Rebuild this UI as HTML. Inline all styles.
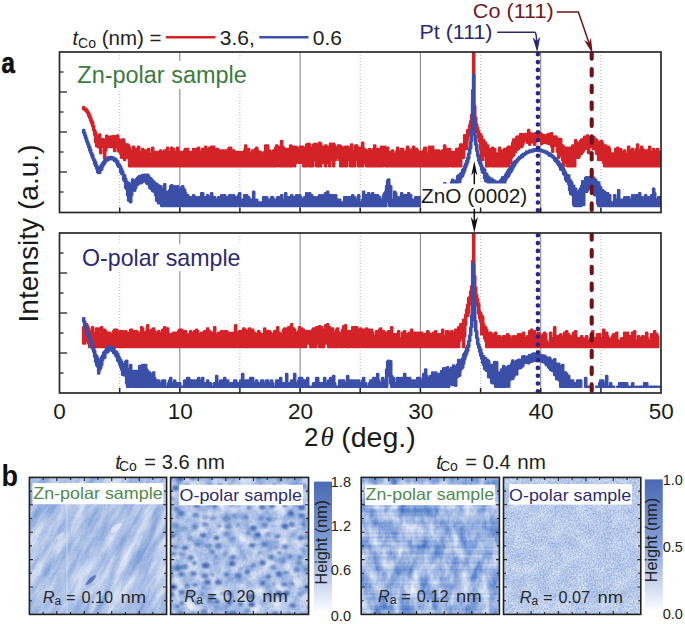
<!DOCTYPE html>
<html><head><meta charset="utf-8"><style>
html,body{margin:0;padding:0;background:#fff;width:685px;height:624px;overflow:hidden}
svg{display:block}
text{font-family:"Liberation Sans",sans-serif}
text.serif{font-family:"Liberation Serif",serif}
</style></head><body>
<svg width="685" height="624" viewBox="0 0 685 624">
<defs>
<clipPath id="cu"><rect x="59.5" y="52" width="601.5" height="160.5"/></clipPath>
<clipPath id="cl"><rect x="59.5" y="233" width="601.5" height="160"/></clipPath>
</defs>
<rect width="685" height="624" fill="#fff"/>
<!-- upper plot -->
<line x1="119.7" y1="52" x2="119.7" y2="212.5" stroke="#b4b4b4" stroke-width="1" stroke-dasharray="1 2"/>
<line x1="239.9" y1="52" x2="239.9" y2="212.5" stroke="#b4b4b4" stroke-width="1" stroke-dasharray="1 2"/>
<line x1="360.2" y1="52" x2="360.2" y2="212.5" stroke="#b4b4b4" stroke-width="1" stroke-dasharray="1 2"/>
<line x1="480.6" y1="52" x2="480.6" y2="212.5" stroke="#b4b4b4" stroke-width="1" stroke-dasharray="1 2"/>
<line x1="600.9" y1="52" x2="600.9" y2="212.5" stroke="#b4b4b4" stroke-width="1" stroke-dasharray="1 2"/>
<line x1="179.8" y1="52" x2="179.8" y2="212.5" stroke="#8a8a8a" stroke-width="1.1"/>
<line x1="300.1" y1="52" x2="300.1" y2="212.5" stroke="#8a8a8a" stroke-width="1.1"/>
<line x1="420.4" y1="52" x2="420.4" y2="212.5" stroke="#8a8a8a" stroke-width="1.1"/>
<line x1="540.7" y1="52" x2="540.7" y2="212.5" stroke="#8a8a8a" stroke-width="1.1"/>
<rect x="77" y="61" width="171" height="28" fill="#fff"/>
<g clip-path="url(#cu)" stroke-width="2.6" stroke-linejoin="round">
<path d="M83.2 107.4h1V108.3h1V108.9h1V109.6h1V111.3h1V113.0h1V114.8h1V117.5h1V120.3h1V122.2h1V126.1h1V130.4h1V132.2h1V137.4h1V136.2h1V135.8h1V134.6h1V138.9h1V142.5h1V139.3h1V139.7h1V141.4h1V139.5h1V135.7h1V138.0h1V137.0h1V137.6h1V136.8h1V136.5h1V136.7h1V136.4h1V136.3h1V139.9h1V138.1h1V135.6h1V139.4h1V140.4h1V141.9h1V140.4h1V139.6h1h1V143.7h1V146.7h1V145.6h1V144.6h1V145.6h1V147.9h1V150.5h1V153.6h1V150.5h1V146.7h1V155.5h1V150.5h1V149.1h1V155.5h1V146.7h1V153.6h1V152.0h1V153.6h1V149.1h1V155.5h1V150.5h1h1V152.0h1V150.5h1V149.1h1V153.6h1V155.5h1V157.6h1V147.9h1V155.5h1V152.0h1V155.5h1V152.0h1V157.6h1V152.0h1h1V150.5h1V152.0h1V157.6h1V152.0h1V150.5h1h1V152.0h1V147.9h1V153.6h1h1V152.0h1V147.9h1V157.6h1V149.1h1V153.6h1V152.0h1V155.5h1V147.9h1V155.5h1h1V152.0h1V155.5h1h1V152.0h1V150.5h1V149.1h1h1h1V152.0h1h1V153.6h1h1V152.0h1V149.1h1V150.5h1V153.6h1V149.1h1h1V147.9h1V152.0h1h1V153.6h1V149.1h1h1V150.5h1V146.7h1V149.1h1h1V152.0h1V147.9h1V149.1h1V146.7h1h1h1V155.5h1V150.5h1V149.1h1h1V150.5h1V153.6h1V152.0h1V150.5h1V153.6h1V150.5h1V152.0h1V150.5h1V160.0h1V153.6h1V149.1h1V147.9h1h1V152.0h1V150.5h1h1V153.6h1h1V152.0h1h1h1V153.6h1V152.0h1V153.6h1V155.5h1V152.0h1V150.5h1V145.6h1V149.1h1V150.5h1V149.1h1V153.6h1h1h1V150.5h1V152.0h1V153.6h1V149.1h1V147.9h1V150.5h1V155.5h1h1V152.0h1V153.6h1h1h1V152.0h1V145.6h1V150.5h1V145.6h1V153.6h1V150.5h1V152.0h1V153.6h1V155.5h1V150.5h1h1V147.9h1V145.6h1V150.5h1h1V146.7h1V149.1h1V141.1h1V146.7h1V147.9h1V149.1h1h1V150.5h1V149.1h1V152.0h1V153.6h1V145.6h1V146.7h1V147.9h1V146.7h1h1h1V150.5h1V149.1h1V147.9h1V150.5h1V146.7h1V147.9h1V146.7h1V147.9h1V152.0h1h1V144.6h1V147.9h1V143.7h1V144.6h1V149.1h1V152.0h1V147.9h1V144.6h1V145.6h1V143.7h1V145.6h1h1V147.9h1V142.8h1V143.7h1V150.5h1V146.7h1h1h1V145.6h1V149.1h1V146.7h1V152.0h1V146.7h1V143.7h1V147.9h1V149.1h1V143.7h1V145.6h1V147.9h1V149.1h1h1V145.6h1h1V147.9h1V146.7h1V149.1h1h1V147.9h1V146.7h1h1h1V147.9h1V149.1h1h1V144.6h1V152.0h1V155.5h1V150.5h1V145.6h1h1V147.9h1V150.5h1V147.9h1V152.0h1V153.6h1V142.8h1V150.5h1V149.1h1V150.5h1h1V152.0h1V153.6h1V149.1h1V152.0h1V153.6h1V150.5h1V149.1h1V145.6h1V149.1h1V153.6h1V149.1h1h1V155.5h1V157.6h1V146.7h1V150.5h1V147.9h1V146.7h1V147.9h1V149.1h1V147.9h1V152.0h1V153.6h1V152.0h1V153.6h1V150.5h1V153.6h1V155.5h1V157.6h1V152.0h1V147.9h1V152.0h1V153.6h1V150.5h1V149.1h1h1V152.0h1V153.6h1h1V150.5h1V146.7h1V149.1h1V153.6h1V150.5h1V152.0h1V149.1h1V146.7h1V150.5h1h1V149.1h1V150.5h1V152.0h1V155.5h1V152.0h1h1h1V150.5h1V147.9h1h1V153.6h1h1h1V146.7h1V155.5h1h1V146.7h1V153.6h1V150.5h1V152.0h1V150.5h1V152.0h1V150.5h1V152.0h1V155.5h1V153.6h1V150.5h1h1V145.6h1V152.0h1V155.5h1V149.1h1V153.6h1V149.1h1V153.6h1V152.0h1V153.6h1V152.0h1V155.5h1V152.0h1V149.1h1V150.5h1V149.1h1V147.9h1V144.6h1h1V146.7h1V145.6h1V135.3h1V137.4h1V136.8h1V130.4h1V129.7h1V125.3h1V121.4h1V115.1h1V90.2h1V51.7h1V106.1h1V117.6h1V124.2h1V127.8h1V131.3h1V135.0h1V134.4h1V136.6h1V141.9h1V140.4h1V145.6h1V142.8h1V147.9h1V145.6h1V153.6h1V150.5h1V149.1h1V150.5h1V147.9h1V153.6h1V149.1h1V157.6h1V153.6h1V155.5h1V153.6h1V147.9h1V152.0h1V150.5h1V152.0h1h1V149.1h1V152.0h1V150.5h1V147.9h1V146.7h1V147.9h1V146.7h1h1V142.8h1V139.6h1V141.9h1V142.8h1V137.2h1V136.5h1V138.7h1V137.0h1V134.0h1V137.2h1V134.2h1V134.2h1V136.9h1V134.1h1V134.6h1V135.4h1V130.0h1V134.1h1V133.5h1V135.5h1V133.8h1V135.5h1V135.9h1V133.2h1V135.5h1V137.5h1V134.1h1V135.5h1V133.2h1V134.8h1V135.5h1V135.1h1V135.5h1V135.8h1V137.3h1V134.5h1h1V134.0h1V133.6h1V133.4h1V137.8h1V136.7h1V136.8h1V136.5h1V137.8h1V142.1h1V139.0h1V143.7h1V139.0h1V145.6h1h1V146.7h1V149.1h1V150.5h1V147.9h1V150.5h1V152.0h1V147.9h1V152.0h1V150.5h1V145.6h1V149.1h1V145.6h1V140.4h1V145.6h1h1V142.8h1V143.7h1V141.1h1V139.6h1V140.4h1V139.0h1V136.7h1V137.8h1h1V135.6h1V138.3h1V137.3h1V137.2h1V137.7h1V138.4h1V137.0h1V138.7h1V139.3h1V140.4h1V142.8h1V141.9h1V143.7h1h1V141.1h1V143.7h1V147.9h1h1V145.6h1V150.5h1V152.0h1V146.7h1V149.1h1V153.6h1h1h1h1h1V149.1h1V152.0h1V147.9h1V150.5h1V155.5h1V149.1h1V153.6h1h1V152.0h1V150.5h1V153.6h1V155.5h1V153.6h1V146.7h1V150.5h1V152.0h1h1V149.1h1V153.6h1V152.0h1V153.6h1V149.1h1V144.6h1V153.6h1V150.5h1V153.6h1V146.7h1V149.1h1V153.6h1h1V150.5h1V155.5h1V150.5h1h1V146.7h1V155.5h1V152.0h1h1V149.1h1V152.0h1V153.6h1V150.5h1V149.1h1V152.0h1h1V155.5h1V166.3h-1h-1V162.8h-1V166.3h-1h-1h-1h-1h-1h-1h-1h-1h-1h-1h-1h-1V162.8h-1V166.3h-1h-1h-1h-1h-1h-1h-1h-1h-1h-1h-1h-1h-1h-1h-1h-1h-1h-1h-1V162.8h-1V166.3h-1h-1h-1h-1h-1h-1h-1h-1h-1h-1h-1h-1V162.8h-1V166.3h-1h-1h-1h-1h-1h-1V162.8h-1V166.3h-1V162.8h-1V157.6h-1V160.0h-1V150.5h-1V153.6h-1V160.0h-1V152.0h-1V153.6h-1V146.2h-1V146.9h-1V149.2h-1V146.5h-1V146.9h-1V146.2h-1V144.5h-1V152.9h-1V148.8h-1V148.5h-1V144.1h-1V147.6h-1V150.5h-1V152.0h-1V153.6h-1h-1V155.5h-1V157.6h-1h-1h-1V153.6h-1V166.3h-1V162.8h-1V166.3h-1h-1h-1h-1V162.8h-1V166.3h-1V162.8h-1h-1h-1V166.3h-1V160.0h-1V155.5h-1V153.6h-1V152.0h-1V157.6h-1V151.7h-1V145.8h-1V143.9h-1V145.6h-1V145.4h-1V151.7h-1V146.3h-1V142.1h-1V142.3h-1V143.7h-1V143.2h-1V143.2h-1V140.1h-1V142.7h-1V140.1h-1V141.1h-1V144.0h-1V140.1h-1h-1V140.6h-1V139.7h-1V141.1h-1h-1V144.6h-1V142.2h-1V140.6h-1V142.2h-1h-1V144.6h-1V141.6h-1V142.7h-1V139.0h-1V139.4h-1V140.3h-1V142.2h-1V145.0h-1V146.9h-1V145.7h-1V144.8h-1V148.7h-1V149.4h-1V146.6h-1V152.0h-1V152.0h-1V155.5h-1h-1V157.6h-1V162.8h-1V157.6h-1V166.3h-1h-1V162.8h-1V166.3h-1V162.8h-1V166.3h-1V160.0h-1V166.3h-1h-1V160.0h-1V166.3h-1h-1h-1h-1h-1h-1h-1V162.8h-1V160.0h-1V166.3h-1h-1V162.8h-1V166.3h-1V153.6h-1V155.5h-1V152.0h-1V160.0h-1h-1V149.3h-1V141.6h-1V137.2h-1V132.5h-1V128.0h-1V123.4h-1V117.2h-1V102.8h-1V113.0h-1V120.8h-1V126.2h-1V132.1h-1V135.6h-1V139.7h-1V148.9h-1V148.7h-1V146.7h-1V157.6h-1V153.6h-1V157.6h-1V166.3h-1V160.0h-1V166.3h-1h-1h-1V160.0h-1V166.3h-1h-1h-1h-1V162.8h-1h-1V166.3h-1h-1V162.8h-1V166.3h-1V162.8h-1V166.3h-1h-1h-1h-1h-1h-1h-1h-1h-1h-1h-1h-1h-1h-1h-1h-1h-1h-1h-1h-1h-1h-1h-1h-1h-1h-1h-1h-1V162.8h-1V166.3h-1h-1h-1h-1h-1h-1h-1h-1h-1h-1h-1h-1V160.0h-1V166.3h-1h-1h-1h-1h-1h-1h-1h-1h-1h-1h-1h-1h-1h-1h-1h-1h-1V162.8h-1h-1V166.3h-1h-1h-1h-1V162.8h-1V166.3h-1h-1V162.8h-1V166.3h-1V160.0h-1V166.3h-1h-1V162.8h-1V166.3h-1h-1h-1h-1V162.8h-1h-1h-1V166.3h-1V162.8h-1V166.3h-1V160.0h-1V166.3h-1V160.0h-1h-1h-1V166.3h-1h-1V162.8h-1V166.3h-1h-1V160.0h-1h-1h-1V166.3h-1h-1V155.5h-1V157.6h-1V166.3h-1V160.0h-1V166.3h-1V160.0h-1V157.6h-1V153.6h-1V155.5h-1V160.0h-1h-1V166.3h-1V157.6h-1V160.0h-1V157.6h-1V166.3h-1V162.8h-1h-1V160.0h-1V166.3h-1V162.8h-1h-1V157.6h-1V162.8h-1V166.3h-1V160.0h-1V166.3h-1h-1h-1V160.0h-1V155.5h-1h-1V166.3h-1h-1V162.8h-1V166.3h-1V155.5h-1V162.8h-1V166.3h-1h-1V162.8h-1V166.3h-1V160.0h-1V162.8h-1h-1h-1V155.5h-1V160.0h-1V162.8h-1V157.6h-1V166.3h-1V162.8h-1V160.0h-1V166.3h-1h-1h-1V162.8h-1V166.3h-1V162.8h-1V166.3h-1h-1h-1h-1h-1V162.8h-1V166.3h-1V160.0h-1V162.8h-1V166.3h-1h-1h-1h-1h-1h-1h-1h-1h-1h-1h-1h-1h-1h-1h-1V162.8h-1V166.3h-1h-1h-1h-1h-1h-1h-1h-1h-1h-1h-1h-1h-1h-1h-1h-1V162.8h-1V166.3h-1h-1h-1h-1h-1h-1h-1h-1h-1h-1h-1V162.8h-1V166.3h-1h-1h-1h-1h-1h-1h-1V162.8h-1V166.3h-1h-1h-1h-1V162.8h-1V166.3h-1h-1h-1h-1h-1h-1h-1h-1h-1h-1h-1h-1h-1h-1h-1h-1h-1h-1h-1h-1h-1V162.8h-1V166.3h-1h-1V160.0h-1V166.3h-1V162.8h-1V166.3h-1h-1h-1h-1h-1V162.8h-1V166.3h-1h-1h-1V162.8h-1V166.3h-1h-1h-1h-1h-1V162.8h-1V166.3h-1h-1h-1h-1h-1h-1V162.8h-1V166.3h-1h-1h-1h-1h-1h-1h-1h-1V160.0h-1V166.3h-1h-1h-1h-1h-1h-1h-1V162.8h-1V166.3h-1h-1h-1h-1h-1h-1h-1h-1h-1h-1h-1V162.8h-1V166.3h-1V162.8h-1V166.3h-1h-1h-1h-1h-1h-1h-1h-1h-1V157.6h-1h-1V153.6h-1V157.6h-1V160.0h-1V157.6h-1V153.6h-1V157.6h-1V153.6h-1V150.5h-1V151.4h-1V147.1h-1V146.2h-1V146.5h-1V151.0h-1V142.9h-1V145.4h-1V147.0h-1V145.8h-1V144.1h-1V147.0h-1V145.1h-1V147.4h-1V150.4h-1V158.7h-1V146.2h-1V144.5h-1V146.7h-1V153.1h-1V143.6h-1V147.3h-1V146.0h-1V146.2h-1V142.1h-1V134.8h-1V130.1h-1V126.2h-1V123.1h-1V120.6h-1V117.8h-1V115.8h-1V112.9h-1V111.6h-1V110.5h-1V109.5h-1V108.9h-1Z" stroke="#d42328" fill="#d42328"/>
<path d="M83.2 130.1h1V132.8h1V135.8h1V138.7h1V141.7h1V144.4h1V146.8h1V149.8h1V153.0h1V155.1h1V158.4h1V160.4h1V162.3h1V165.3h1V167.0h1V168.8h1V169.7h1V166.6h1V164.9h1V163.3h1V161.7h1V161.1h1V159.5h1V159.1h1V157.9h1V157.3h1V157.6h1V157.0h1V157.0h1V157.7h1h1V158.5h1V159.0h1V160.3h1V161.6h1V163.7h1V165.3h1V166.8h1V169.4h1V171.6h1V174.6h1V175.5h1V178.8h1V181.8h1V182.5h1V182.8h1V187.3h1V184.8h1V184.0h1V179.6h1V181.2h1V180.7h1V180.8h1V179.1h1V177.8h1V177.0h1V176.1h1V176.0h1h1V175.0h1h1V175.5h1V174.8h1V176.3h1V174.7h1V176.2h1V178.4h1h1V179.2h1V181.0h1V181.5h1V182.7h1V184.1h1V183.9h1V186.8h1V185.5h1V190.6h1V186.3h1V188.8h1h1h1V184.3h1V191.7h1V193.3h1V191.7h1h1V190.2h1V186.4h1V185.3h1V195.2h1V186.4h1h1V193.3h1V188.8h1V186.4h1V188.8h1V190.2h1V188.8h1V187.6h1V186.4h1V188.8h1V190.2h1V193.3h1V195.2h1h1V199.7h1V197.3h1h1V206.0h-1h-1h-1h-1h-1h-1h-1h-1h-1h-1h-1h-1h-1h-1V202.5h-1V206.0h-1h-1h-1h-1h-1h-1h-1h-1h-1h-1h-1h-1V202.5h-1V206.0h-1h-1V200.5h-1V201.5h-1V203.3h-1V197.9h-1V200.6h-1V195.1h-1V192.1h-1V188.1h-1V191.1h-1V189.1h-1V188.6h-1V187.6h-1V183.7h-1V184.0h-1V183.1h-1V181.2h-1V179.5h-1V181.5h-1V180.2h-1V182.6h-1V183.3h-1V180.8h-1V182.4h-1V184.8h-1V184.4h-1V188.0h-1V190.6h-1V190.3h-1V190.1h-1V195.1h-1V202.1h-1V201.0h-1V200.5h-1V195.2h-1V189.0h-1V187.8h-1V181.1h-1V179.7h-1V174.3h-1V173.7h-1V171.9h-1V167.3h-1V166.7h-1V165.2h-1V162.8h-1V161.3h-1V161.0h-1V159.2h-1V159.5h-1V158.9h-1h-1h-1V159.6h-1V160.1h-1V160.7h-1V161.3h-1V163.5h-1V164.6h-1V166.4h-1V169.4h-1V170.2h-1V172.8h-1V172.9h-1V172.1h-1V168.5h-1V166.0h-1V163.7h-1V160.2h-1V157.9h-1V155.5h-1V152.8h-1V150.3h-1V147.1h-1V144.0h-1V141.4h-1V138.3h-1V135.5h-1V132.7h-1ZM192.2 197.3h1V195.2h1V197.3h1h1V202.5h1V199.7h1V197.3h1h1V202.5h1V193.3h1h1V199.7h1V197.3h1V206.0h-1h-1h-1h-1h-1h-1h-1h-1h-1h-1h-1h-1h-1ZM206.2 197.3h1V195.2h1V197.3h1V202.5h1h1V193.3h1V197.3h1V199.7h1V197.3h1V199.7h1h1h1V197.3h1V199.7h1h1V195.2h1V202.5h1V199.7h1V195.2h1V199.7h1V197.3h1V202.5h1V197.3h1V195.2h1h1V206.0h1V197.3h1V195.2h1V197.3h1h1V202.5h1V197.3h1V195.2h1V193.3h1V199.7h1h1h1h1V195.2h1V202.5h1V195.2h1V202.5h1V197.3h1V199.7h1h1h1h1V191.7h1V199.7h1V202.5h1V199.7h1V202.5h1h1h1h1h1V206.0h1V197.3h1h1V199.7h1V197.3h1V199.7h1h1V202.5h1h1V197.3h1h1V199.7h1V202.5h1V199.7h1V202.5h1V197.3h1h1V199.7h1V197.3h1V195.2h1V199.7h1V206.0h1V199.7h1V193.3h1V199.7h1h1V197.3h1V199.7h1V197.3h1V195.2h1V202.5h1V199.7h1V197.3h1V206.0h-1h-1h-1h-1h-1h-1h-1h-1h-1h-1h-1h-1h-1h-1h-1h-1h-1h-1h-1h-1h-1h-1h-1h-1h-1h-1h-1h-1h-1h-1h-1h-1h-1h-1h-1h-1h-1h-1h-1h-1h-1h-1h-1h-1h-1h-1h-1h-1h-1h-1h-1h-1h-1h-1h-1h-1h-1h-1h-1h-1h-1h-1h-1h-1h-1h-1h-1h-1h-1h-1h-1h-1h-1h-1h-1h-1h-1h-1h-1h-1h-1h-1h-1h-1h-1h-1h-1h-1h-1ZM296.2 195.2h1V197.3h1V199.7h1V195.2h1V197.3h1V199.7h1h1h1V197.3h1V202.5h1V193.3h1V195.2h1V202.5h1V193.3h1V199.7h1V195.2h1V199.7h1h1V197.3h1V202.5h1V206.0h1V197.3h1V202.5h1V195.2h1V197.3h1V199.7h1V195.2h1V197.3h1V195.2h1V193.3h1V197.3h1V191.7h1V197.3h1V195.2h1V202.5h1V195.2h1V199.7h1V197.3h1V195.2h1h1V199.7h1h1V202.5h1V199.7h1V202.5h1h1h1h1V197.3h1h1h1h1V206.0h1V197.3h1V202.5h1V197.3h1V195.2h1V199.7h1V197.3h1V199.7h1h1h1V195.2h1V202.5h1h1h1V199.7h1V191.7h1V197.3h1V206.0h-1h-1h-1h-1h-1h-1h-1h-1h-1h-1h-1h-1h-1h-1h-1h-1h-1h-1h-1h-1h-1h-1h-1h-1h-1h-1h-1h-1h-1h-1h-1h-1h-1h-1h-1h-1h-1h-1h-1h-1h-1h-1h-1h-1h-1h-1h-1h-1h-1h-1h-1h-1h-1h-1h-1h-1h-1h-1h-1h-1h-1h-1h-1h-1h-1h-1h-1h-1h-1ZM366.2 195.2h1V199.7h1V193.3h1V199.7h1V202.5h1V195.2h1V193.3h1V195.2h1h1h1V197.3h1V195.2h1V199.7h1V197.3h1V202.5h1h1V199.7h1V195.2h1V193.3h1V191.7h1V186.1h1V180.5h1V179.6h1V185.7h1V186.4h1V199.7h1V202.5h1V199.7h1V191.7h1V193.3h1V199.7h1V197.3h1V199.7h1h1V197.3h1V193.3h1V202.5h1V197.3h1V195.2h1h1V206.0h-1h-1h-1h-1h-1h-1h-1h-1h-1h-1h-1h-1h-1h-1h-1h-1h-1V193.1h-1V188.0h-1V201.2h-1V206.0h-1h-1h-1h-1h-1h-1h-1h-1h-1h-1h-1h-1h-1h-1h-1h-1h-1h-1h-1h-1ZM407.2 202.5h1V193.3h1V202.5h1V195.2h1V199.7h1V202.5h1V199.7h1h1V197.3h1h1h1h1h1V199.7h1V202.5h1V206.0h1V197.3h1V191.7h1V190.2h1V206.0h1V193.3h1V195.2h1V193.3h1V195.2h1V193.3h1V190.2h1V197.3h1V193.3h1V206.0h-1h-1h-1h-1h-1h-1h-1h-1h-1h-1h-1h-1h-1h-1h-1h-1h-1h-1h-1h-1h-1h-1h-1h-1h-1h-1h-1h-1ZM436.2 190.2h1V197.3h1V193.3h1h1h1V188.8h1h1V191.7h1V183.4h1V184.4h1V189.5h1V185.8h1V185.6h1V185.1h1V188.4h1V182.0h1V179.7h1V181.7h1V181.4h1V182.2h1V180.6h1V176.2h1V175.2h1V175.4h1V173.5h1V172.8h1V170.1h1V168.7h1V166.3h1V163.8h1V161.0h1V157.8h1V153.9h1V148.5h1V141.5h1V130.5h1V103.2h1V75.0h1V118.4h1V135.7h1V144.5h1V151.3h1V155.2h1V159.8h1V162.6h1V165.2h1V167.9h1V168.5h1V169.8h1V173.8h1V173.9h1V176.4h1V176.9h1V178.6h1V179.2h1V178.7h1V180.1h1V180.9h1V180.9h1V183.2h1V183.6h1V181.9h1V182.8h1V185.2h1V180.3h1V179.3h1V177.4h1V177.5h1V176.9h1V174.7h1V173.4h1V171.5h1V169.7h1V168.9h1V167.5h1V166.1h1V163.9h1V162.9h1V161.7h1V160.8h1V160.2h1V159.2h1V158.1h1V157.1h1V156.6h1V155.3h1V154.5h1V153.8h1V153.5h1V153.1h1V151.6h1V151.9h1V151.5h1V150.6h1h1V150.5h1V149.9h1V149.6h1V149.4h1V149.6h1V149.4h1V149.8h1h1V149.6h1V149.7h1V150.1h1V150.5h1V150.8h1V151.0h1V151.5h1V151.8h1V152.6h1V153.1h1V153.6h1V154.3h1V155.1h1V155.7h1V156.8h1V157.8h1V158.4h1V158.8h1V161.0h1V161.9h1V163.2h1V164.4h1V165.9h1V167.7h1V168.9h1V171.1h1V173.0h1V176.3h1V175.4h1V175.6h1V179.8h1V180.7h1V182.5h1V186.3h1V185.8h1V190.2h1V188.8h1V191.7h1V193.3h1h1V190.2h1V188.5h1V186.0h1V181.3h1V183.8h1V182.1h1V177.7h1V177.4h1V177.7h1V179.0h1V177.4h1V177.7h1V179.8h1V178.6h1V177.9h1V181.5h1V179.9h1V182.4h1V184.2h1V182.6h1V186.4h1V187.6h1V190.2h1h1V197.3h1V191.7h1V197.3h1V195.2h1V193.3h1V199.7h1V195.2h1V206.0h1V202.5h1h1h1V195.2h1V199.7h1h1h1V190.2h1V202.5h1V199.7h1h1V206.0h-1h-1h-1h-1h-1h-1h-1h-1h-1h-1h-1h-1h-1h-1h-1h-1h-1h-1h-1h-1h-1h-1V202.8h-1V206.0h-1V203.6h-1V193.9h-1V190.5h-1V195.1h-1V188.2h-1V188.6h-1V187.2h-1V186.6h-1V188.2h-1V183.2h-1V189.9h-1V191.7h-1V189.2h-1V189.5h-1V205.0h-1V192.9h-1V200.5h-1V206.0h-1h-1h-1h-1h-1V202.5h-1V206.0h-1V204.7h-1V194.9h-1V194.3h-1V194.0h-1V189.9h-1V184.1h-1V180.3h-1V181.3h-1V179.4h-1V174.8h-1V174.1h-1V170.4h-1V169.8h-1V169.4h-1V166.5h-1V165.1h-1V163.5h-1V161.7h-1V161.2h-1V160.1h-1V157.9h-1V157.3h-1V156.3h-1V155.9h-1V155.7h-1V154.6h-1V153.7h-1V153.3h-1V152.6h-1V152.3h-1V151.9h-1V151.5h-1V150.9h-1h-1V150.6h-1V150.9h-1V150.6h-1h-1V150.5h-1V150.8h-1V150.9h-1V151.4h-1V151.2h-1V151.7h-1V151.9h-1V152.4h-1V152.8h-1V153.2h-1V154.3h-1V154.6h-1V155.1h-1V156.7h-1V157.2h-1V157.7h-1V158.6h-1V159.5h-1V160.8h-1V162.0h-1V163.2h-1V165.4h-1V166.6h-1V168.4h-1V170.7h-1V171.9h-1V173.6h-1V175.8h-1V177.3h-1V177.7h-1V179.9h-1V183.9h-1V183.8h-1V186.0h-1V193.0h-1V191.8h-1V197.1h-1V197.7h-1V197.2h-1V194.5h-1V193.8h-1V196.6h-1V196.0h-1V188.6h-1V191.0h-1V190.7h-1V186.6h-1V184.2h-1V181.7h-1V180.1h-1V181.1h-1V178.0h-1V173.0h-1V172.4h-1V169.8h-1V165.8h-1V163.3h-1V160.6h-1V155.8h-1V150.6h-1V144.4h-1V134.5h-1V116.1h-1V129.1h-1V140.7h-1V148.1h-1V153.3h-1V158.6h-1V162.0h-1V164.7h-1V167.4h-1V170.6h-1V173.3h-1V176.1h-1V175.8h-1V178.5h-1V182.2h-1V181.9h-1V182.8h-1V187.4h-1V187.8h-1V188.4h-1V191.3h-1V192.3h-1V194.2h-1V193.3h-1V192.2h-1V203.8h-1V198.1h-1V201.3h-1V206.0h-1h-1h-1h-1h-1h-1h-1h-1h-1h-1ZM623.2 199.7h1V197.3h1V199.7h1V197.3h1V202.5h1V197.3h1V202.5h1V199.7h1V202.5h1V195.2h1V197.3h1h1V195.2h1h1V199.7h1V195.2h1V193.3h1V206.0h-1h-1h-1h-1h-1h-1h-1h-1h-1h-1h-1h-1h-1h-1h-1h-1h-1ZM641.2 197.3h1V199.7h1V202.5h1V197.3h1V195.2h1V206.0h-1h-1h-1h-1h-1ZM647.2 199.7h1V197.3h1V199.7h1V197.3h1V195.2h1V206.0h1V188.8h1V193.3h1V199.7h1h1V206.0h1V197.3h1V199.7h1V197.3h1V206.0h-1h-1h-1h-1h-1h-1h-1h-1h-1h-1h-1h-1h-1h-1Z" stroke="#3b4fa8" fill="#3b4fa8"/>
</g>
<rect x="421" y="183.5" width="107" height="28.5" fill="#fff"/>
<g clip-path="url(#cu)"><line x1="537.9" y1="54.3" x2="537.9" y2="212.5" stroke="#27288a" stroke-width="4.6" stroke-linecap="round" stroke-dasharray="0 7.8"/>
<line x1="591.7" y1="52.2" x2="591.7" y2="212.5" stroke="#6e1419" stroke-width="4.1" stroke-linecap="round" stroke-dasharray="6.5 10.3"/></g>
<line x1="119.7" y1="212.5" x2="119.7" y2="207.5" stroke="#222" stroke-width="1.5"/>
<line x1="179.8" y1="212.5" x2="179.8" y2="207.5" stroke="#222" stroke-width="1.5"/>
<line x1="239.9" y1="212.5" x2="239.9" y2="207.5" stroke="#222" stroke-width="1.5"/>
<line x1="300.1" y1="212.5" x2="300.1" y2="207.5" stroke="#222" stroke-width="1.5"/>
<line x1="360.2" y1="212.5" x2="360.2" y2="207.5" stroke="#222" stroke-width="1.5"/>
<line x1="420.4" y1="212.5" x2="420.4" y2="207.5" stroke="#222" stroke-width="1.5"/>
<line x1="480.6" y1="212.5" x2="480.6" y2="207.5" stroke="#222" stroke-width="1.5"/>
<line x1="540.7" y1="212.5" x2="540.7" y2="207.5" stroke="#222" stroke-width="1.5"/>
<line x1="600.9" y1="212.5" x2="600.9" y2="207.5" stroke="#222" stroke-width="1.5"/>
<line x1="59.5" y1="72.0" x2="63.5" y2="72.0" stroke="#222" stroke-width="1.3"/>
<line x1="59.5" y1="92.0" x2="67.0" y2="92.0" stroke="#222" stroke-width="1.3"/>
<line x1="59.5" y1="112.0" x2="63.5" y2="112.0" stroke="#222" stroke-width="1.3"/>
<line x1="59.5" y1="132.0" x2="67.0" y2="132.0" stroke="#222" stroke-width="1.3"/>
<line x1="59.5" y1="152.0" x2="63.5" y2="152.0" stroke="#222" stroke-width="1.3"/>
<line x1="59.5" y1="172.0" x2="67.0" y2="172.0" stroke="#222" stroke-width="1.3"/>
<line x1="59.5" y1="192.0" x2="63.5" y2="192.0" stroke="#222" stroke-width="1.3"/>
<rect x="59.5" y="52" width="601.5" height="160.5" fill="none" stroke="#2a2a2a" stroke-width="1.7"/>
<!-- lower plot -->
<line x1="119.7" y1="233" x2="119.7" y2="393" stroke="#b4b4b4" stroke-width="1" stroke-dasharray="1 2"/>
<line x1="239.9" y1="233" x2="239.9" y2="393" stroke="#b4b4b4" stroke-width="1" stroke-dasharray="1 2"/>
<line x1="360.2" y1="233" x2="360.2" y2="393" stroke="#b4b4b4" stroke-width="1" stroke-dasharray="1 2"/>
<line x1="480.6" y1="233" x2="480.6" y2="393" stroke="#b4b4b4" stroke-width="1" stroke-dasharray="1 2"/>
<line x1="600.9" y1="233" x2="600.9" y2="393" stroke="#b4b4b4" stroke-width="1" stroke-dasharray="1 2"/>
<line x1="179.8" y1="233" x2="179.8" y2="393" stroke="#8a8a8a" stroke-width="1.1"/>
<line x1="300.1" y1="233" x2="300.1" y2="393" stroke="#8a8a8a" stroke-width="1.1"/>
<line x1="420.4" y1="233" x2="420.4" y2="393" stroke="#8a8a8a" stroke-width="1.1"/>
<line x1="540.7" y1="233" x2="540.7" y2="393" stroke="#8a8a8a" stroke-width="1.1"/>
<rect x="80" y="244" width="162" height="27" fill="#fff"/>
<g clip-path="url(#cl)" stroke-width="2.6" stroke-linejoin="round">
<path d="M83.2 327.4h1V325.3h1V326.3h1V324.4h1V326.3h1V328.6h1V331.2h1V334.3h1V331.2h1V327.4h1V332.7h1V334.3h1V332.7h1V328.6h1V334.3h1V331.2h1V328.6h1V332.7h1V327.4h1V336.2h1V332.7h1V329.8h1V331.2h1V336.2h1V332.7h1h1h1V340.7h1V334.3h1V336.2h1V331.2h1V329.8h1V336.2h1V329.8h1V331.2h1V334.3h1V332.7h1V331.2h1V332.7h1V331.2h1V334.3h1V336.2h1V331.2h1V336.2h1V334.3h1V332.7h1V338.3h1V329.8h1h1V334.3h1V332.7h1V331.2h1h1h1V332.7h1V334.3h1V332.7h1V334.3h1V327.4h1V328.6h1V334.3h1V332.7h1h1V331.2h1V325.3h1V334.3h1V331.2h1V334.3h1V329.8h1V338.3h1V328.6h1V331.2h1V332.7h1V334.3h1h1V331.2h1V332.7h1V338.3h1V336.2h1V329.8h1V332.7h1V327.4h1V334.3h1V328.6h1h1V336.2h1V338.3h1V334.3h1h1V338.3h1V332.7h1h1V334.3h1V332.7h1V334.3h1V331.2h1V329.8h1V332.7h1V329.8h1V336.2h1V338.3h1V331.2h1h1V334.3h1V336.2h1h1V334.3h1V331.2h1V332.7h1V334.3h1h1V331.2h1V332.7h1V329.8h1V331.2h1V334.3h1V338.3h1V336.2h1V332.7h1V334.3h1V336.2h1V331.2h1V334.3h1h1V328.6h1V336.2h1V331.2h1V336.2h1V332.7h1V336.2h1h1V327.4h1V334.3h1V336.2h1V334.3h1V332.7h1h1h1V331.2h1V338.3h1h1V331.2h1h1h1V334.3h1h1V332.7h1V338.3h1V336.2h1V332.7h1V338.3h1V334.3h1V325.3h1V332.7h1V334.3h1h1V331.2h1h1V338.3h1V340.7h1V328.6h1V331.2h1V329.8h1V331.2h1h1V334.3h1V328.6h1V332.7h1V336.2h1V329.8h1V336.2h1V332.7h1V338.3h1V334.3h1h1V331.2h1V332.7h1V336.2h1V334.3h1h1V336.2h1V328.6h1V336.2h1V331.2h1V332.7h1V331.2h1h1V332.7h1V334.3h1V336.2h1h1V331.2h1h1V332.7h1V327.4h1V338.3h1V332.7h1V336.2h1V338.3h1V334.3h1V329.8h1V328.6h1V332.7h1h1V328.6h1V327.4h1V338.3h1V332.7h1V324.4h1V332.7h1V328.6h1V329.8h1V334.3h1h1V332.7h1V331.2h1V327.4h1V331.2h1V328.6h1V334.3h1V329.8h1V338.3h1V331.2h1V334.3h1V331.2h1h1V334.3h1h1V331.2h1V329.8h1V328.6h1h1V331.2h1V327.4h1V328.6h1V334.3h1V326.3h1V331.2h1V327.4h1V331.2h1V329.8h1V332.7h1V325.3h1V328.6h1V324.4h1V327.4h1h1V331.2h1V332.7h1V328.6h1V334.3h1V332.7h1V334.3h1V329.8h1V328.6h1V332.7h1h1V334.3h1V332.7h1V329.8h1V326.3h1V328.6h1V325.3h1V331.2h1V332.7h1V331.2h1h1h1h1V327.4h1V332.7h1V327.4h1V328.6h1V327.4h1V331.2h1V329.8h1h1V328.6h1V334.3h1V332.7h1V329.8h1V332.7h1V336.2h1V328.6h1V329.8h1h1V331.2h1V336.2h1V329.8h1V332.7h1V340.7h1V336.2h1h1V331.2h1V332.7h1V331.2h1V329.8h1V328.6h1V331.2h1V334.3h1V331.2h1V332.7h1V336.2h1V332.7h1V338.3h1V331.2h1V336.2h1V338.3h1V327.4h1V334.3h1h1h1V336.2h1V334.3h1V336.2h1V331.2h1V338.3h1V340.7h1h1V332.7h1V336.2h1V331.2h1V336.2h1V334.3h1V336.2h1V334.3h1V332.7h1V334.3h1V329.8h1V332.7h1V338.3h1V332.7h1V340.7h1V334.3h1V332.7h1h1V343.5h1V332.7h1h1V336.2h1V340.7h1V334.3h1h1V338.3h1V331.2h1V332.7h1V338.3h1V334.3h1h1V338.3h1V332.7h1V334.3h1V331.2h1V334.3h1h1V340.7h1V336.2h1V334.3h1h1V329.8h1V336.2h1V340.7h1V336.2h1V331.2h1h1V336.2h1V340.7h1V332.7h1V331.2h1V332.7h1V334.3h1V336.2h1V329.8h1V334.3h1V329.8h1V327.4h1V331.2h1V324.4h1h1h1V319.7h1V321.1h1V315.0h1V309.5h1V304.9h1V298.1h1V297.3h1V291.6h1V286.3h1V261.0h1V233.0h1V276.0h1V287.7h1V295.3h1V299.4h1V304.1h1V311.4h1V313.1h1V315.5h1V317.1h1V324.4h1V327.4h1h1V329.8h1V332.7h1V334.3h1V336.2h1V332.7h1V334.3h1V336.2h1V343.5h1V334.3h1V332.7h1V336.2h1V338.3h1V347.0h-1h-1h-1h-1h-1h-1h-1h-1h-1V343.5h-1V347.0h-1h-1V340.7h-1V338.3h-1V331.2h-1h-1V334.3h-1V321.8h-1V318.3h-1V313.5h-1V305.5h-1V302.7h-1V295.0h-1V289.2h-1V272.5h-1V283.0h-1V291.9h-1V297.6h-1V304.4h-1V313.1h-1V316.0h-1h-1V324.4h-1V336.2h-1V347.0h-1V336.2h-1V338.3h-1V336.2h-1V340.7h-1V347.0h-1h-1h-1h-1h-1h-1h-1h-1h-1h-1h-1h-1h-1h-1h-1h-1h-1h-1h-1h-1h-1h-1h-1h-1h-1h-1h-1h-1h-1h-1h-1h-1h-1V340.7h-1V347.0h-1h-1h-1h-1h-1h-1h-1h-1h-1h-1h-1h-1h-1h-1h-1V343.5h-1V347.0h-1h-1h-1h-1h-1h-1h-1h-1h-1h-1h-1h-1h-1h-1h-1h-1h-1h-1h-1h-1h-1h-1h-1h-1h-1h-1h-1h-1h-1h-1h-1h-1h-1V343.5h-1V347.0h-1h-1h-1h-1h-1h-1h-1h-1h-1h-1h-1h-1V343.5h-1h-1V347.0h-1h-1h-1h-1h-1h-1V343.5h-1V347.0h-1h-1V343.5h-1h-1V347.0h-1h-1V340.7h-1V347.0h-1V340.7h-1V343.5h-1V347.0h-1h-1h-1h-1V340.7h-1h-1V347.0h-1h-1h-1h-1h-1V343.5h-1V347.0h-1h-1h-1h-1V340.7h-1h-1V343.5h-1h-1V347.0h-1h-1h-1V343.5h-1V347.0h-1V343.5h-1V340.7h-1V343.5h-1V347.0h-1V343.5h-1V347.0h-1h-1h-1h-1V343.5h-1h-1h-1h-1V347.0h-1h-1V343.5h-1V347.0h-1h-1V340.7h-1h-1V347.0h-1h-1h-1h-1V343.5h-1V347.0h-1V343.5h-1V347.0h-1h-1h-1h-1V340.7h-1V347.0h-1h-1h-1h-1h-1h-1h-1h-1h-1h-1h-1h-1h-1h-1h-1h-1h-1h-1h-1h-1h-1h-1h-1h-1h-1h-1h-1h-1h-1h-1h-1h-1V343.5h-1V347.0h-1h-1h-1h-1h-1h-1h-1h-1h-1h-1h-1h-1h-1h-1h-1h-1h-1h-1h-1h-1h-1h-1h-1h-1h-1h-1h-1h-1h-1h-1V340.7h-1V347.0h-1h-1h-1h-1V343.5h-1V347.0h-1h-1h-1h-1h-1h-1h-1h-1h-1h-1h-1h-1h-1h-1h-1h-1h-1h-1h-1h-1h-1h-1h-1h-1h-1h-1h-1h-1h-1h-1h-1h-1h-1h-1h-1h-1h-1h-1h-1h-1h-1h-1h-1h-1h-1h-1h-1h-1h-1h-1V343.5h-1V347.0h-1h-1h-1h-1h-1h-1h-1h-1h-1V343.5h-1V347.0h-1h-1h-1h-1h-1h-1h-1h-1h-1h-1h-1h-1h-1h-1h-1V343.5h-1V347.0h-1V343.5h-1V347.0h-1h-1h-1h-1h-1h-1h-1h-1h-1h-1h-1h-1h-1h-1h-1h-1h-1h-1h-1h-1h-1h-1h-1h-1h-1h-1h-1h-1h-1h-1h-1h-1h-1h-1h-1h-1h-1V343.5h-1V347.0h-1V343.5h-1V347.0h-1h-1h-1V340.7h-1V347.0h-1h-1h-1V343.5h-1V347.0h-1h-1V343.5h-1V334.3h-1V340.7h-1V334.3h-1V343.5h-1h-1ZM499.2 336.2h1V338.3h1h1h1V336.2h1h1V340.7h1V336.2h1V334.3h1V340.7h1V336.2h1V338.3h1V343.5h1h1V336.2h1V347.0h-1h-1h-1h-1h-1h-1h-1h-1h-1h-1h-1h-1h-1h-1h-1ZM515.2 338.3h1V336.2h1h1V334.3h1h1V336.2h1V338.3h1V334.3h1V332.7h1V338.3h1h1h1V336.2h1h1V331.2h1V340.7h1V329.8h1V336.2h1V340.7h1V331.2h1V347.0h1V340.7h1V334.3h1V332.7h1V334.3h1V340.7h1V336.2h1V338.3h1V334.3h1V332.7h1V334.3h1V340.7h1V347.0h-1h-1h-1h-1h-1h-1h-1h-1h-1V343.5h-1V347.0h-1h-1h-1h-1h-1h-1h-1h-1h-1h-1h-1h-1h-1h-1h-1h-1h-1h-1h-1h-1h-1h-1ZM548.2 343.5h1h1V332.7h1V347.0h-1h-1h-1ZM552.2 338.3h1V340.7h1V327.4h1V340.7h1V336.2h1V338.3h1V336.2h1h1V334.3h1V336.2h1V338.3h1h1V332.7h1V334.3h1V331.2h1V336.2h1V334.3h1V336.2h1V343.5h1V336.2h1V338.3h1V332.7h1V334.3h1V331.2h1V338.3h1h1h1V340.7h1V347.0h-1h-1h-1h-1h-1h-1h-1h-1h-1h-1h-1h-1h-1h-1h-1h-1h-1h-1h-1h-1h-1h-1h-1h-1h-1h-1h-1h-1ZM581.2 336.2h1V338.3h1V340.7h1h1V338.3h1V336.2h1V340.7h1h1V343.5h1V338.3h1V334.3h1V331.2h1V338.3h1h1h1V343.5h1V334.3h1V347.0h-1h-1h-1h-1h-1h-1h-1h-1h-1h-1h-1h-1h-1h-1h-1h-1h-1ZM599.2 334.3h1V340.7h1V338.3h1V343.5h1V329.8h1V336.2h1V338.3h1V332.7h1V336.2h1V338.3h1V340.7h1h1V338.3h1V336.2h1V334.3h1V338.3h1h1V332.7h1V340.7h1h1h1h1V338.3h1V347.0h-1h-1h-1h-1h-1h-1h-1h-1h-1h-1h-1h-1h-1h-1h-1h-1h-1h-1h-1h-1h-1h-1h-1ZM623.2 343.5h1V332.7h1V338.3h1V343.5h1V332.7h1V340.7h1V336.2h1h1h1V332.7h1V338.3h1V331.2h1V340.7h1h1h1V336.2h1V338.3h1h1h1V336.2h1V340.7h1h1V336.2h1V332.7h1V338.3h1V347.0h-1h-1h-1h-1h-1h-1h-1h-1h-1h-1h-1h-1h-1h-1h-1h-1h-1h-1h-1h-1h-1h-1h-1h-1h-1ZM649.2 343.5h1V340.7h1V334.3h1V338.3h1V340.7h1V331.2h1V340.7h1V334.3h1V336.2h1V347.0h-1h-1h-1h-1h-1h-1h-1h-1h-1Z" stroke="#d42328" fill="#d42328"/>
<path d="M83.2 318.4h1V321.6h1V324.9h1V328.2h1V331.2h1V333.6h1V337.2h1V339.9h1V341.8h1V345.8h1V347.8h1V351.0h1V354.9h1V355.9h1V358.4h1V360.6h1V361.9h1V359.8h1V357.2h1V355.7h1V352.5h1V351.7h1V350.6h1V348.0h1V348.4h1V346.2h1V347.1h1V346.4h1V347.4h1V347.8h1V348.4h1V350.6h1V351.6h1V352.0h1V354.1h1V356.2h1V358.3h1V360.0h1V361.9h1V364.0h1V364.3h1V366.4h1V361.9h1V360.8h1V368.9h1V372.0h1V372.7h1V365.1h1V372.5h1V374.1h1V371.0h1h1V378.1h1V371.0h1h1h1V366.1h1V368.4h1V372.5h1V365.1h1V368.4h1V365.1h1h1V369.6h1V371.0h1V374.1h1V372.5h1V378.1h1V376.0h1V374.1h1V372.5h1V378.1h1V380.5h1V383.3h1V380.5h1h1V386.8h1V383.3h1h1V380.5h1V383.3h1V380.5h1V386.8h1h1h1V383.3h1V380.5h1V378.1h1V383.3h1V386.8h-1h-1h-1h-1h-1h-1h-1h-1h-1h-1h-1h-1h-1h-1h-1h-1h-1h-1h-1h-1h-1h-1h-1h-1h-1h-1V383.3h-1V386.8h-1h-1h-1V383.3h-1V386.8h-1h-1h-1h-1h-1h-1h-1h-1h-1V383.3h-1h-1V386.8h-1V384.8h-1V386.8h-1V383.2h-1V375.4h-1h-1V374.7h-1V374.8h-1V369.6h-1V366.7h-1V364.4h-1V361.6h-1V360.5h-1V356.7h-1V355.5h-1V353.4h-1V352.9h-1V351.1h-1V350.5h-1V349.6h-1V350.1h-1V350.6h-1V352.3h-1V351.7h-1V353.2h-1V357.7h-1V357.6h-1V359.9h-1V364.9h-1V368.0h-1V369.9h-1V373.5h-1V366.5h-1V364.9h-1V361.7h-1V356.6h-1V351.8h-1V348.6h-1V346.4h-1V343.2h-1V339.8h-1V337.2h-1V334.9h-1V331.0h-1V328.1h-1V324.8h-1V321.5h-1ZM173.2 386.8h1V380.5h1V383.3h1h1h1V386.8h-1h-1h-1h-1h-1ZM179.2 383.3h1V386.8h1h1h1h1V380.5h1V386.8h1h1V378.1h1h1V383.3h1V380.5h1V386.8h1V380.5h1V386.8h-1h-1h-1h-1h-1h-1h-1h-1h-1h-1h-1h-1h-1h-1ZM194.2 383.3h1V380.5h1V386.8h1h1V378.1h1V380.5h1V386.8h-1h-1h-1h-1h-1h-1ZM201.2 380.5h1V378.1h1V386.8h-1h-1ZM204.2 383.3h1h1V386.8h1V380.5h1V386.8h1V383.3h1h1V386.8h1h1h1V383.3h1h1V376.0h1V386.8h1V383.3h1h1V380.5h1V386.8h1V383.3h1V380.5h1V378.1h1V386.8h1V380.5h1h1V386.8h1h1V383.3h1h1h1V386.8h1V380.5h1h1V386.8h1h1V383.3h1h1V380.5h1V386.8h1V374.1h1V380.5h1V383.3h1V386.8h1V380.5h1V383.3h1V380.5h1V386.8h1V378.1h1V383.3h1V378.1h1V383.3h1h1V386.8h1V380.5h1V386.8h1V383.3h1h1V386.8h1V380.5h1h1V383.3h1V386.8h1V383.3h1V380.5h1h1V383.3h1h1h1V380.5h1V383.3h1V386.8h1h1h1V380.5h1h1V383.3h1h1V378.1h1V383.3h1V386.8h1V383.3h1V386.8h1V383.3h1V374.1h1V386.8h-1h-1h-1h-1h-1h-1h-1h-1h-1h-1h-1h-1h-1h-1h-1h-1h-1h-1h-1h-1h-1h-1h-1h-1h-1h-1h-1h-1h-1h-1h-1h-1h-1h-1h-1h-1h-1h-1h-1h-1h-1h-1h-1h-1h-1h-1h-1h-1h-1h-1h-1h-1h-1h-1h-1h-1h-1h-1h-1h-1h-1h-1h-1h-1h-1h-1h-1h-1h-1h-1h-1h-1h-1h-1h-1h-1h-1h-1h-1h-1h-1h-1h-1ZM288.2 386.8h1V383.3h1h1V380.5h1V383.3h1V386.8h1V374.1h1V386.8h1h1V383.3h1V380.5h1V378.1h1V383.3h1V378.1h1V380.5h1h1V386.8h1V380.5h1V383.3h1V378.1h1V386.8h-1h-1h-1h-1h-1h-1h-1h-1h-1h-1h-1h-1h-1h-1h-1h-1h-1h-1h-1h-1ZM309.2 386.8h1h1h1h1V383.3h1h1h1V378.1h1h1V383.3h1h1h1h1V386.8h1h1V378.1h1V383.3h1V386.8h1h1V380.5h1V386.8h-1h-1h-1h-1h-1h-1h-1h-1h-1h-1h-1h-1h-1h-1h-1h-1h-1h-1h-1h-1ZM330.2 378.1h1V383.3h1V380.5h1V376.0h1V383.3h1V386.8h1h1h1h1V380.5h1V383.3h1V380.5h1V386.8h1V380.5h1V383.3h1h1V386.8h1V376.0h1V386.8h1V386.8h-1h-1h-1h-1h-1h-1h-1h-1h-1h-1h-1h-1h-1h-1h-1h-1h-1h-1h-1ZM350.2 380.5h1V383.3h1V380.5h1V383.3h1h1V380.5h1V383.3h1V386.8h1V380.5h1V383.3h1V386.8h1h1V380.5h1V378.1h1V383.3h1h1V386.8h1h1h1V383.3h1V380.5h1V383.3h1V380.5h1V378.1h1h1V386.8h1V386.8h-1h-1h-1h-1h-1h-1h-1h-1h-1h-1h-1h-1h-1h-1h-1h-1h-1h-1h-1h-1h-1h-1h-1h-1h-1h-1ZM377.2 374.1h1V380.5h1V383.3h1h1V386.8h1V378.1h1V383.3h1V380.5h1h1V369.6h1V361.6h1V360.8h1V362.8h1V361.2h1V376.0h1V383.3h1V378.1h1V383.3h1h1h1V378.1h1h1V383.3h1h1V378.1h1V383.3h1V386.8h1V374.1h1V378.1h1h1V386.8h1V380.5h1V378.1h1V383.3h1V380.5h1V383.3h1V380.5h1h1V383.3h1V380.5h1V378.1h1V383.3h1V378.1h1V380.5h1h1h1V374.1h1V380.5h1V369.6h1V376.0h1V380.5h1V378.1h1V380.5h1V376.0h1V378.1h1V372.5h1V376.0h1V378.1h1V372.5h1V378.1h1V376.0h1V374.1h1V386.8h-1h-1h-1h-1h-1h-1h-1h-1h-1h-1h-1h-1h-1h-1h-1h-1h-1h-1h-1h-1h-1h-1h-1h-1h-1h-1h-1h-1h-1h-1h-1h-1h-1h-1h-1h-1h-1h-1h-1h-1h-1h-1h-1h-1h-1h-1h-1h-1V383.3h-1V372.6h-1V367.1h-1V375.5h-1V386.8h-1h-1h-1h-1h-1h-1h-1h-1h-1h-1ZM440.2 376.0h1V371.0h1V372.5h1V368.4h1V386.8h-1h-1h-1h-1ZM445.2 368.4h1V369.6h1V367.2h1V372.5h1V371.0h1V369.6h1V367.9h1V367.6h1V365.6h1V366.5h1V367.3h1V370.0h1V364.5h1V360.0h1V361.8h1V362.6h1V359.9h1V358.5h1V354.7h1V353.2h1V351.5h1V348.1h1V345.9h1V341.3h1V335.9h1V327.9h1V315.3h1V285.9h1V263.9h1V302.0h1V321.1h1V331.4h1V338.4h1V344.2h1V347.1h1V349.6h1V353.3h1V356.5h1V356.4h1V361.0h1V358.3h1V362.5h1V360.0h1V361.3h1V367.0h1V365.1h1V366.7h1V365.0h1V366.4h1V362.0h1V369.3h1V362.4h1V372.5h1V376.0h1V372.5h1h1V369.6h1V371.0h1V366.1h1V369.6h1V367.8h1V370.6h1V367.1h1V366.0h1V366.2h1V366.1h1V363.7h1V360.5h1V362.6h1V362.4h1V361.8h1V360.9h1h1V359.7h1V361.0h1V361.4h1V359.7h1V356.5h1V356.2h1V357.2h1V356.9h1V357.1h1V357.6h1V356.3h1V355.0h1V355.4h1V355.4h1V354.1h1V353.6h1V354.0h1V356.1h1V353.9h1V355.7h1V354.9h1V355.5h1V355.0h1V356.0h1V355.6h1V357.4h1V355.7h1V356.9h1V357.7h1V358.4h1V357.9h1V357.7h1V360.1h1V360.6h1V361.4h1h1V359.2h1V363.5h1V364.3h1V364.2h1V363.7h1V366.4h1V372.1h1V368.4h1V365.1h1V374.1h1V372.5h1h1V374.1h1V380.5h1V376.0h1V380.5h1h1V383.3h1V380.5h1V383.3h1V386.8h1V383.3h1V386.8h1V380.5h1h1V386.8h1V380.5h1V386.8h-1h-1h-1h-1h-1h-1h-1h-1h-1h-1h-1h-1h-1h-1h-1h-1h-1h-1h-1h-1h-1V380.6h-1V376.6h-1V375.1h-1V379.2h-1V375.1h-1V375.0h-1V370.2h-1V370.9h-1V367.2h-1V369.9h-1V368.3h-1V367.2h-1V363.7h-1V365.3h-1V363.7h-1V362.6h-1V360.5h-1V361.9h-1V360.9h-1V360.3h-1V361.1h-1V360.6h-1V359.8h-1V361.0h-1V358.4h-1V360.2h-1V360.8h-1V359.8h-1V361.8h-1V360.0h-1V359.3h-1V363.3h-1V361.9h-1V362.8h-1V362.4h-1V361.9h-1V363.5h-1V366.3h-1V366.4h-1V368.0h-1V368.3h-1V366.5h-1V368.8h-1V374.4h-1V372.2h-1h-1V376.8h-1V379.0h-1V376.9h-1V375.7h-1V380.0h-1V386.8h-1V382.6h-1V384.2h-1V386.8h-1h-1V383.3h-1V386.8h-1h-1h-1h-1V383.3h-1V386.8h-1V383.5h-1V386.8h-1V382.2h-1V378.4h-1V383.3h-1V382.5h-1V375.0h-1V374.4h-1V377.3h-1V370.9h-1V370.8h-1V367.1h-1V369.1h-1V365.0h-1V362.7h-1V358.2h-1V355.5h-1V351.5h-1V347.4h-1V343.9h-1V337.8h-1V331.0h-1V319.9h-1V299.5h-1V313.7h-1V327.0h-1V334.9h-1V341.0h-1V346.8h-1V350.7h-1V353.6h-1V356.2h-1V359.2h-1V363.5h-1V367.8h-1V368.1h-1V369.9h-1V375.6h-1V372.6h-1V376.9h-1V376.0h-1V385.7h-1V380.2h-1V383.2h-1V385.0h-1V384.3h-1V383.8h-1V383.3h-1V386.8h-1h-1V383.3h-1V386.8h-1ZM585.2 378.1h1V386.8h1h1h1h1h1h1V386.8h-1h-1h-1h-1h-1h-1h-1ZM596.2 386.8h1V386.8h-1ZM599.2 383.3h1V380.5h1h1h1V383.3h1V386.8h1V383.3h1V376.0h1V386.8h1h1V386.8h-1h-1h-1h-1h-1h-1h-1h-1h-1h-1ZM610.2 383.3h1V386.8h1h1h1V386.8h-1h-1h-1h-1ZM617.2 386.8h1h1V383.3h1V386.8h1V383.3h1V386.8h-1h-1h-1h-1h-1ZM623.2 383.3h1V386.8h1V383.3h1h1V386.8h1V386.8h-1h-1h-1h-1h-1ZM629.2 386.8h1V386.8h-1ZM631.2 386.8h1V383.3h1V386.8h1V386.8h-1h-1h-1ZM636.2 386.8h1V386.8h-1ZM639.2 386.8h1V386.8h-1ZM641.2 386.8h1h1V386.8h-1h-1ZM644.2 383.3h1V386.8h-1ZM646.2 383.3h1V386.8h-1ZM649.2 386.8h1h1V386.8h-1h-1ZM652.2 386.8h1h1h1h1h1V386.8h-1h-1h-1h-1h-1ZM659.2 386.8h1V386.8h-1Z" stroke="#3b4fa8" fill="#3b4fa8"/>
</g>
<g clip-path="url(#cl)"><line x1="537.9" y1="235.3" x2="537.9" y2="393" stroke="#27288a" stroke-width="4.6" stroke-linecap="round" stroke-dasharray="0 7.8"/>
<line x1="591.7" y1="233.2" x2="591.7" y2="393" stroke="#6e1419" stroke-width="4.1" stroke-linecap="round" stroke-dasharray="6.5 10.3"/></g>
<line x1="119.7" y1="393" x2="119.7" y2="388" stroke="#222" stroke-width="1.5"/>
<line x1="179.8" y1="393" x2="179.8" y2="388" stroke="#222" stroke-width="1.5"/>
<line x1="239.9" y1="393" x2="239.9" y2="388" stroke="#222" stroke-width="1.5"/>
<line x1="300.1" y1="393" x2="300.1" y2="388" stroke="#222" stroke-width="1.5"/>
<line x1="360.2" y1="393" x2="360.2" y2="388" stroke="#222" stroke-width="1.5"/>
<line x1="420.4" y1="393" x2="420.4" y2="388" stroke="#222" stroke-width="1.5"/>
<line x1="480.6" y1="393" x2="480.6" y2="388" stroke="#222" stroke-width="1.5"/>
<line x1="540.7" y1="393" x2="540.7" y2="388" stroke="#222" stroke-width="1.5"/>
<line x1="600.9" y1="393" x2="600.9" y2="388" stroke="#222" stroke-width="1.5"/>
<line x1="59.5" y1="253.0" x2="63.5" y2="253.0" stroke="#222" stroke-width="1.3"/>
<line x1="59.5" y1="273.0" x2="67.0" y2="273.0" stroke="#222" stroke-width="1.3"/>
<line x1="59.5" y1="293.0" x2="63.5" y2="293.0" stroke="#222" stroke-width="1.3"/>
<line x1="59.5" y1="313.0" x2="67.0" y2="313.0" stroke="#222" stroke-width="1.3"/>
<line x1="59.5" y1="333.0" x2="63.5" y2="333.0" stroke="#222" stroke-width="1.3"/>
<line x1="59.5" y1="353.0" x2="67.0" y2="353.0" stroke="#222" stroke-width="1.3"/>
<line x1="59.5" y1="373.0" x2="63.5" y2="373.0" stroke="#222" stroke-width="1.3"/>
<rect x="59.5" y="233" width="601.5" height="160" fill="none" stroke="#2a2a2a" stroke-width="1.7"/>
<!-- arrows -->
<line x1="166" y1="37.3" x2="215.5" y2="37.3" stroke="#d42328" stroke-width="2.6"/>
<line x1="259.3" y1="37.3" x2="308.4" y2="37.3" stroke="#3b4fa8" stroke-width="2.6"/>
<g fill="none" stroke-width="1.5">
<path d="M497.2 32.3H534.3Q536 32.3 536.3 36.5L536.7 42" stroke="#2a2a72"/>
<path d="M556.8 12H578.4L589 43" stroke="#6e1419"/>
<path d="M474.3 184.3V170" stroke="#111"/>
<path d="M474.3 208.8V222" stroke="#111"/>
</g>
<path d="M537.3 52.4L532.6 37.2L536.6 41.3L540.2 36.7Z" fill="#2a2a72"/>
<path d="M592.7 53.9L584.1 39.9L589.0 43.0L590.9 37.6Z" fill="#6e1419"/>
<path d="M474.3 161.1L477.3 175.4L474.3 171.4L471.3 175.4Z" fill="#111"/>
<path d="M474.3 232.7L470.7 217.0L474.3 221.4L477.9 217.0Z" fill="#111"/>
<defs><linearGradient id="cb" x1="0" y1="0" x2="0" y2="1"><stop offset="0" stop-color="#4a69b3"/><stop offset="0.5" stop-color="#85a2d8"/><stop offset="1" stop-color="#fbfcff"/></linearGradient><clipPath id="ci1"><rect x="29.4" y="477.4" width="137.2" height="137.0"/></clipPath><clipPath id="ci2"><rect x="170.6" y="477.4" width="138.0" height="137.0"/></clipPath><clipPath id="ci3"><rect x="361.2" y="477.4" width="138.2" height="137.0"/></clipPath><clipPath id="ci4"><rect x="503.5" y="477.4" width="137.3" height="137.0"/></clipPath><filter id="af1" filterUnits="userSpaceOnUse" x="-140" y="360" width="480" height="380" color-interpolation-filters="sRGB"><feTurbulence type="fractalNoise" baseFrequency="0.022 0.11" numOctaves="5" seed="3"/><feColorMatrix values="1 0 0 0 0  1 0 0 0 0  1 0 0 0 0  0 0 0 0 1" result="g1"/><feTurbulence type="fractalNoise" baseFrequency="0.7" numOctaves="1" seed="4"/><feColorMatrix values="1 0 0 0 0  1 0 0 0 0  1 0 0 0 0  0 0 0 0 1" result="g2"/><feComposite in="g1" in2="g2" operator="arithmetic" k1="0" k2="0.75" k3="0.250" k4="0"/><feColorMatrix values="-0.7843 0 0 0 1.0863  -0.5882 0 0 0 1.0647  -0.2353 0 0 0 1.0259  0 0 0 0 1"/></filter><filter id="af2" filterUnits="userSpaceOnUse" x="170.6" y="477.4" width="138.00000000000003" height="137.0" color-interpolation-filters="sRGB"><feTurbulence type="fractalNoise" baseFrequency="0.08" numOctaves="3" seed="8"/><feColorMatrix values="1 0 0 0 0  1 0 0 0 0  1 0 0 0 0  0 0 0 0 1" result="g1"/><feTurbulence type="fractalNoise" baseFrequency="0.5" numOctaves="1" seed="12"/><feColorMatrix values="1 0 0 0 0  1 0 0 0 0  1 0 0 0 0  0 0 0 0 1" result="g2"/><feComposite in="g1" in2="g2" operator="arithmetic" k1="0" k2="0.8" k3="0.200" k4="0"/><feColorMatrix values="-0.7451 0 0 0 1.0745  -0.5588 0 0 0 1.0559  -0.2235 0 0 0 1.0224  0 0 0 0 1"/></filter><filter id="af3" filterUnits="userSpaceOnUse" x="361.2" y="477.4" width="138.2" height="137.0" color-interpolation-filters="sRGB"><feTurbulence type="fractalNoise" baseFrequency="0.1 0.05" numOctaves="4" seed="5"/><feColorMatrix values="1 0 0 0 0  1 0 0 0 0  1 0 0 0 0  0 0 0 0 1" result="g1"/><feTurbulence type="fractalNoise" baseFrequency="0.004 0.45" numOctaves="1" seed="6"/><feColorMatrix values="1 0 0 0 0  1 0 0 0 0  1 0 0 0 0  0 0 0 0 1" result="g2"/><feComposite in="g1" in2="g2" operator="arithmetic" k1="0" k2="0.75" k3="0.250" k4="0"/><feColorMatrix values="-1.0980 0 0 0 1.1569  -0.8235 0 0 0 1.1176  -0.3294 0 0 0 1.0471  0 0 0 0 1"/></filter><filter id="af4" filterUnits="userSpaceOnUse" x="503.5" y="477.4" width="137.29999999999995" height="137.0" color-interpolation-filters="sRGB"><feTurbulence type="fractalNoise" baseFrequency="0.6" numOctaves="2" seed="9"/><feColorMatrix values="1 0 0 0 0  1 0 0 0 0  1 0 0 0 0  0 0 0 0 1" result="g1"/><feTurbulence type="fractalNoise" baseFrequency="0.08" numOctaves="2" seed="10"/><feColorMatrix values="1 0 0 0 0  1 0 0 0 0  1 0 0 0 0  0 0 0 0 1" result="g2"/><feComposite in="g1" in2="g2" operator="arithmetic" k1="0" k2="0.7" k3="0.300" k4="0"/><feColorMatrix values="-0.6275 0 0 0 1.0392  -0.4706 0 0 0 1.0294  -0.1882 0 0 0 1.0118  0 0 0 0 1"/></filter><filter id="bl" color-interpolation-filters="sRGB"><feGaussianBlur stdDeviation="0.7"/></filter><filter id="bl2" color-interpolation-filters="sRGB"><feGaussianBlur stdDeviation="1.0"/></filter></defs>
<g clip-path="url(#ci1)"><g transform="rotate(-62 98 546)"><rect x="-140" y="360" width="480" height="380" fill="#000" filter="url(#af1)"/></g><line x1="67" y1="477.4" x2="67" y2="614.4" stroke="#dbe6f7" stroke-width="1" opacity="0.7"/><ellipse cx="91" cy="580" rx="7" ry="1.9" transform="rotate(-45 91 580)" fill="#4668ad" opacity="0.85" filter="url(#bl)"/><ellipse cx="116" cy="528" rx="7" ry="3" transform="rotate(-40 116 528)" fill="#e4ecf8" opacity="0.8" filter="url(#bl)"/><ellipse cx="60" cy="536" rx="5" ry="1.8" transform="rotate(-40 60 536)" fill="#dfe8f7" opacity="0.7" filter="url(#bl)"/></g>
<g clip-path="url(#ci2)"><rect x="170.6" y="477.4" width="138.0" height="137.0" fill="#000" filter="url(#af2)"/><g fill="#4369b3" filter="url(#bl2)"><ellipse cx="165.3" cy="470.1" rx="2.1" ry="1.6" opacity="0.49"/><ellipse cx="175.1" cy="468.7" rx="3.7" ry="2.8" opacity="0.77"/><ellipse cx="189.6" cy="467.5" rx="2.5" ry="2.0" opacity="0.48"/><ellipse cx="198.4" cy="469.2" rx="3.5" ry="2.7" opacity="0.73"/><ellipse cx="206.8" cy="465.0" rx="2.9" ry="2.2" opacity="0.61"/><ellipse cx="217.7" cy="466.8" rx="3.5" ry="2.7" opacity="0.48"/><ellipse cx="241.5" cy="469.0" rx="3.2" ry="2.5" opacity="0.52"/><ellipse cx="262.8" cy="469.7" rx="3.6" ry="2.8" opacity="0.82"/><ellipse cx="270.1" cy="467.9" rx="3.8" ry="2.9" opacity="0.68"/><ellipse cx="296.5" cy="465.3" rx="2.6" ry="2.0" opacity="0.45"/><ellipse cx="306.2" cy="467.2" rx="2.9" ry="2.2" opacity="0.48"/><ellipse cx="317.0" cy="466.1" rx="3.6" ry="2.8" opacity="0.42"/><ellipse cx="337.7" cy="468.8" rx="2.9" ry="2.2" opacity="0.91"/><ellipse cx="350.4" cy="468.5" rx="3.7" ry="2.9" opacity="0.96"/><ellipse cx="157.5" cy="478.4" rx="3.3" ry="2.6" opacity="0.42"/><ellipse cx="168.2" cy="477.8" rx="3.5" ry="2.7" opacity="0.85"/><ellipse cx="180.4" cy="478.7" rx="3.4" ry="2.6" opacity="0.96"/><ellipse cx="192.7" cy="477.4" rx="2.8" ry="2.2" opacity="0.87"/><ellipse cx="211.5" cy="476.5" rx="2.3" ry="1.8" opacity="0.55"/><ellipse cx="227.0" cy="478.4" rx="3.2" ry="2.4" opacity="0.50"/><ellipse cx="232.8" cy="479.8" rx="2.5" ry="1.9" opacity="0.42"/><ellipse cx="247.3" cy="475.9" rx="2.6" ry="2.0" opacity="0.79"/><ellipse cx="259.0" cy="477.4" rx="2.7" ry="2.1" opacity="0.95"/><ellipse cx="264.0" cy="474.8" rx="3.7" ry="2.9" opacity="0.94"/><ellipse cx="279.6" cy="479.8" rx="3.2" ry="2.5" opacity="0.49"/><ellipse cx="288.1" cy="476.1" rx="3.3" ry="2.5" opacity="0.88"/><ellipse cx="300.0" cy="477.9" rx="2.5" ry="1.9" opacity="0.48"/><ellipse cx="311.4" cy="479.4" rx="3.1" ry="2.4" opacity="0.76"/><ellipse cx="325.4" cy="478.8" rx="3.3" ry="2.6" opacity="0.57"/><ellipse cx="333.3" cy="478.2" rx="3.2" ry="2.5" opacity="0.71"/><ellipse cx="175.2" cy="488.2" rx="3.2" ry="2.4" opacity="0.94"/><ellipse cx="187.0" cy="486.3" rx="2.7" ry="2.0" opacity="0.85"/><ellipse cx="197.4" cy="487.8" rx="3.2" ry="2.5" opacity="0.85"/><ellipse cx="210.0" cy="485.7" rx="3.0" ry="2.3" opacity="0.44"/><ellipse cx="219.7" cy="486.1" rx="3.4" ry="2.6" opacity="0.70"/><ellipse cx="230.1" cy="485.0" rx="2.7" ry="2.1" opacity="0.45"/><ellipse cx="238.1" cy="488.0" rx="3.5" ry="2.7" opacity="0.48"/><ellipse cx="253.4" cy="488.0" rx="2.9" ry="2.2" opacity="0.48"/><ellipse cx="274.3" cy="485.4" rx="2.2" ry="1.7" opacity="0.99"/><ellipse cx="284.7" cy="490.2" rx="2.4" ry="1.9" opacity="0.83"/><ellipse cx="294.0" cy="486.9" rx="3.5" ry="2.7" opacity="0.86"/><ellipse cx="303.7" cy="485.9" rx="3.7" ry="2.9" opacity="0.45"/><ellipse cx="317.9" cy="490.1" rx="2.2" ry="1.7" opacity="0.43"/><ellipse cx="323.8" cy="487.4" rx="3.1" ry="2.4" opacity="0.42"/><ellipse cx="339.0" cy="485.6" rx="3.6" ry="2.8" opacity="0.62"/><ellipse cx="348.4" cy="486.7" rx="3.3" ry="2.6" opacity="0.62"/><ellipse cx="171.9" cy="498.7" rx="2.8" ry="2.2" opacity="0.47"/><ellipse cx="182.8" cy="495.7" rx="2.7" ry="2.1" opacity="0.51"/><ellipse cx="191.2" cy="499.6" rx="3.2" ry="2.5" opacity="0.70"/><ellipse cx="200.9" cy="499.0" rx="2.9" ry="2.2" opacity="0.50"/><ellipse cx="213.0" cy="493.4" rx="2.4" ry="1.8" opacity="0.76"/><ellipse cx="235.0" cy="499.0" rx="3.6" ry="2.8" opacity="0.95"/><ellipse cx="244.3" cy="495.6" rx="3.0" ry="2.3" opacity="0.64"/><ellipse cx="257.6" cy="496.0" rx="2.5" ry="1.9" opacity="0.42"/><ellipse cx="265.0" cy="499.2" rx="2.7" ry="2.1" opacity="0.80"/><ellipse cx="277.9" cy="497.1" rx="3.0" ry="2.3" opacity="0.92"/><ellipse cx="300.5" cy="493.6" rx="2.2" ry="1.7" opacity="0.48"/><ellipse cx="313.9" cy="495.6" rx="2.7" ry="2.1" opacity="0.51"/><ellipse cx="320.2" cy="496.8" rx="2.6" ry="2.0" opacity="0.63"/><ellipse cx="331.2" cy="497.2" rx="3.3" ry="2.6" opacity="0.97"/><ellipse cx="338.4" cy="496.6" rx="2.4" ry="1.9" opacity="0.93"/><ellipse cx="168.7" cy="508.2" rx="3.6" ry="2.8" opacity="0.48"/><ellipse cx="176.6" cy="508.9" rx="3.2" ry="2.5" opacity="0.66"/><ellipse cx="196.6" cy="505.4" rx="3.3" ry="2.5" opacity="0.81"/><ellipse cx="209.4" cy="506.2" rx="2.5" ry="2.0" opacity="0.42"/><ellipse cx="214.7" cy="506.1" rx="2.3" ry="1.8" opacity="0.98"/><ellipse cx="232.6" cy="504.5" rx="2.6" ry="2.0" opacity="0.63"/><ellipse cx="248.9" cy="507.4" rx="2.5" ry="2.0" opacity="0.81"/><ellipse cx="262.2" cy="507.1" rx="3.3" ry="2.5" opacity="0.88"/><ellipse cx="272.2" cy="505.5" rx="3.4" ry="2.6" opacity="0.82"/><ellipse cx="284.7" cy="505.5" rx="2.3" ry="1.8" opacity="0.93"/><ellipse cx="295.9" cy="504.3" rx="2.7" ry="2.1" opacity="0.61"/><ellipse cx="301.4" cy="507.4" rx="3.7" ry="2.8" opacity="0.91"/><ellipse cx="317.1" cy="509.4" rx="2.7" ry="2.1" opacity="0.88"/><ellipse cx="325.8" cy="507.5" rx="3.4" ry="2.7" opacity="0.93"/><ellipse cx="337.6" cy="507.9" rx="2.3" ry="1.8" opacity="0.90"/><ellipse cx="350.6" cy="508.8" rx="3.0" ry="2.3" opacity="0.59"/><ellipse cx="159.3" cy="518.0" rx="2.6" ry="2.0" opacity="0.70"/><ellipse cx="168.1" cy="516.6" rx="2.9" ry="2.2" opacity="0.56"/><ellipse cx="181.3" cy="513.3" rx="3.5" ry="2.7" opacity="0.76"/><ellipse cx="195.5" cy="515.0" rx="3.4" ry="2.6" opacity="0.74"/><ellipse cx="205.3" cy="517.2" rx="3.2" ry="2.4" opacity="0.54"/><ellipse cx="213.2" cy="518.0" rx="3.6" ry="2.8" opacity="0.56"/><ellipse cx="226.5" cy="518.7" rx="3.7" ry="2.9" opacity="0.50"/><ellipse cx="234.7" cy="515.7" rx="2.3" ry="1.8" opacity="0.49"/><ellipse cx="245.9" cy="517.3" rx="3.1" ry="2.4" opacity="0.67"/><ellipse cx="261.3" cy="517.6" rx="3.0" ry="2.3" opacity="0.46"/><ellipse cx="269.1" cy="519.2" rx="2.6" ry="2.0" opacity="0.75"/><ellipse cx="275.8" cy="518.0" rx="2.1" ry="1.6" opacity="0.40"/><ellipse cx="290.8" cy="513.5" rx="3.3" ry="2.5" opacity="0.97"/><ellipse cx="302.0" cy="515.5" rx="3.0" ry="2.3" opacity="0.81"/><ellipse cx="311.6" cy="514.2" rx="2.2" ry="1.7" opacity="0.57"/><ellipse cx="320.7" cy="515.7" rx="3.4" ry="2.6" opacity="0.94"/><ellipse cx="330.3" cy="518.4" rx="2.3" ry="1.8" opacity="0.72"/><ellipse cx="341.5" cy="514.5" rx="2.2" ry="1.7" opacity="0.78"/><ellipse cx="163.9" cy="527.3" rx="2.9" ry="2.3" opacity="0.89"/><ellipse cx="175.5" cy="525.8" rx="3.6" ry="2.7" opacity="0.59"/><ellipse cx="184.5" cy="528.6" rx="3.7" ry="2.9" opacity="0.45"/><ellipse cx="195.1" cy="527.1" rx="3.2" ry="2.5" opacity="0.59"/><ellipse cx="205.6" cy="524.6" rx="2.9" ry="2.2" opacity="0.77"/><ellipse cx="219.5" cy="526.0" rx="2.3" ry="1.7" opacity="0.61"/><ellipse cx="228.4" cy="526.9" rx="3.6" ry="2.8" opacity="0.61"/><ellipse cx="238.4" cy="525.0" rx="2.5" ry="1.9" opacity="0.51"/><ellipse cx="253.4" cy="528.0" rx="3.4" ry="2.6" opacity="0.95"/><ellipse cx="264.3" cy="525.3" rx="3.5" ry="2.7" opacity="0.64"/><ellipse cx="284.9" cy="526.3" rx="3.3" ry="2.6" opacity="0.97"/><ellipse cx="291.9" cy="524.5" rx="3.3" ry="2.6" opacity="0.75"/><ellipse cx="303.4" cy="524.3" rx="2.4" ry="1.9" opacity="0.87"/><ellipse cx="319.5" cy="525.7" rx="2.8" ry="2.2" opacity="0.44"/><ellipse cx="326.7" cy="524.2" rx="3.3" ry="2.5" opacity="0.50"/><ellipse cx="339.0" cy="522.4" rx="2.3" ry="1.7" opacity="0.45"/><ellipse cx="350.6" cy="522.8" rx="2.2" ry="1.7" opacity="0.53"/><ellipse cx="156.6" cy="531.0" rx="2.7" ry="2.1" opacity="0.50"/><ellipse cx="172.1" cy="535.9" rx="2.9" ry="2.2" opacity="0.92"/><ellipse cx="189.6" cy="538.6" rx="3.2" ry="2.5" opacity="0.45"/><ellipse cx="203.1" cy="535.4" rx="3.0" ry="2.3" opacity="0.94"/><ellipse cx="216.5" cy="538.0" rx="3.0" ry="2.3" opacity="0.99"/><ellipse cx="226.6" cy="534.1" rx="3.3" ry="2.5" opacity="0.48"/><ellipse cx="233.1" cy="538.7" rx="2.3" ry="1.8" opacity="0.41"/><ellipse cx="248.4" cy="533.2" rx="2.6" ry="2.0" opacity="0.65"/><ellipse cx="257.8" cy="534.9" rx="3.4" ry="2.6" opacity="0.96"/><ellipse cx="267.6" cy="534.5" rx="3.0" ry="2.3" opacity="0.47"/><ellipse cx="277.7" cy="536.3" rx="2.7" ry="2.1" opacity="0.83"/><ellipse cx="300.9" cy="537.9" rx="2.7" ry="2.1" opacity="0.92"/><ellipse cx="306.8" cy="537.6" rx="3.3" ry="2.5" opacity="0.58"/><ellipse cx="319.0" cy="537.8" rx="3.3" ry="2.5" opacity="0.53"/><ellipse cx="341.2" cy="537.2" rx="2.5" ry="2.0" opacity="0.91"/><ellipse cx="175.3" cy="546.7" rx="2.7" ry="2.1" opacity="0.64"/><ellipse cx="184.8" cy="547.9" rx="2.7" ry="2.1" opacity="0.88"/><ellipse cx="197.6" cy="544.2" rx="3.1" ry="2.4" opacity="0.66"/><ellipse cx="208.7" cy="546.1" rx="3.4" ry="2.6" opacity="0.53"/><ellipse cx="218.5" cy="545.6" rx="3.5" ry="2.7" opacity="0.72"/><ellipse cx="252.2" cy="545.2" rx="3.0" ry="2.3" opacity="0.88"/><ellipse cx="264.5" cy="544.1" rx="3.3" ry="2.6" opacity="0.74"/><ellipse cx="275.9" cy="547.8" rx="2.3" ry="1.8" opacity="0.47"/><ellipse cx="284.9" cy="546.7" rx="3.2" ry="2.4" opacity="0.75"/><ellipse cx="305.9" cy="544.4" rx="2.2" ry="1.7" opacity="0.44"/><ellipse cx="313.2" cy="545.6" rx="2.6" ry="2.0" opacity="0.85"/><ellipse cx="324.6" cy="547.0" rx="2.2" ry="1.7" opacity="0.67"/><ellipse cx="347.6" cy="543.7" rx="2.2" ry="1.7" opacity="0.93"/><ellipse cx="160.2" cy="554.6" rx="3.6" ry="2.8" opacity="0.76"/><ellipse cx="173.5" cy="553.7" rx="3.1" ry="2.3" opacity="0.71"/><ellipse cx="181.5" cy="554.1" rx="3.2" ry="2.4" opacity="0.45"/><ellipse cx="190.6" cy="557.6" rx="3.0" ry="2.3" opacity="0.80"/><ellipse cx="211.9" cy="551.8" rx="2.8" ry="2.2" opacity="0.67"/><ellipse cx="225.2" cy="554.0" rx="3.1" ry="2.4" opacity="0.53"/><ellipse cx="233.1" cy="557.4" rx="2.9" ry="2.2" opacity="0.75"/><ellipse cx="244.4" cy="557.2" rx="2.2" ry="1.7" opacity="0.55"/><ellipse cx="259.2" cy="552.7" rx="2.6" ry="2.0" opacity="0.46"/><ellipse cx="271.1" cy="556.9" rx="3.2" ry="2.5" opacity="0.77"/><ellipse cx="279.1" cy="552.8" rx="2.2" ry="1.7" opacity="0.81"/><ellipse cx="290.4" cy="556.4" rx="2.3" ry="1.8" opacity="0.74"/><ellipse cx="300.0" cy="557.3" rx="2.7" ry="2.1" opacity="0.72"/><ellipse cx="321.5" cy="556.8" rx="3.3" ry="2.5" opacity="0.65"/><ellipse cx="332.7" cy="555.5" rx="2.3" ry="1.8" opacity="0.78"/><ellipse cx="345.1" cy="556.3" rx="3.0" ry="2.3" opacity="0.55"/><ellipse cx="165.7" cy="566.8" rx="2.5" ry="1.9" opacity="0.71"/><ellipse cx="177.9" cy="567.9" rx="3.6" ry="2.8" opacity="0.85"/><ellipse cx="184.6" cy="566.9" rx="3.3" ry="2.6" opacity="0.78"/><ellipse cx="194.5" cy="563.1" rx="2.4" ry="1.9" opacity="0.97"/><ellipse cx="205.8" cy="565.4" rx="3.8" ry="2.9" opacity="0.98"/><ellipse cx="232.1" cy="563.7" rx="3.4" ry="2.6" opacity="0.94"/><ellipse cx="240.3" cy="568.7" rx="2.2" ry="1.7" opacity="0.50"/><ellipse cx="252.7" cy="565.7" rx="2.4" ry="1.8" opacity="0.85"/><ellipse cx="262.4" cy="562.7" rx="3.1" ry="2.4" opacity="0.89"/><ellipse cx="273.1" cy="567.4" rx="3.0" ry="2.3" opacity="0.61"/><ellipse cx="282.3" cy="561.1" rx="3.2" ry="2.4" opacity="0.44"/><ellipse cx="298.7" cy="562.5" rx="3.3" ry="2.6" opacity="0.60"/><ellipse cx="306.3" cy="569.3" rx="2.8" ry="2.1" opacity="0.71"/><ellipse cx="314.0" cy="565.8" rx="3.5" ry="2.7" opacity="0.42"/><ellipse cx="325.3" cy="567.3" rx="2.2" ry="1.7" opacity="0.84"/><ellipse cx="347.7" cy="561.0" rx="3.4" ry="2.6" opacity="0.51"/><ellipse cx="157.2" cy="570.8" rx="2.5" ry="1.9" opacity="0.96"/><ellipse cx="169.2" cy="576.2" rx="3.7" ry="2.8" opacity="0.53"/><ellipse cx="181.6" cy="574.3" rx="3.2" ry="2.5" opacity="0.81"/><ellipse cx="193.4" cy="573.8" rx="3.0" ry="2.3" opacity="0.80"/><ellipse cx="205.2" cy="575.9" rx="3.4" ry="2.6" opacity="0.83"/><ellipse cx="212.4" cy="574.7" rx="2.2" ry="1.7" opacity="0.47"/><ellipse cx="226.2" cy="574.3" rx="2.4" ry="1.9" opacity="0.86"/><ellipse cx="237.9" cy="575.5" rx="3.5" ry="2.7" opacity="0.79"/><ellipse cx="247.3" cy="571.9" rx="2.7" ry="2.1" opacity="0.84"/><ellipse cx="268.2" cy="576.6" rx="2.8" ry="2.2" opacity="0.90"/><ellipse cx="279.0" cy="573.9" rx="3.0" ry="2.3" opacity="0.89"/><ellipse cx="286.1" cy="572.8" rx="2.6" ry="2.0" opacity="0.64"/><ellipse cx="296.6" cy="569.8" rx="3.2" ry="2.5" opacity="0.65"/><ellipse cx="311.6" cy="574.3" rx="3.1" ry="2.3" opacity="0.64"/><ellipse cx="321.9" cy="574.5" rx="3.0" ry="2.3" opacity="0.63"/><ellipse cx="344.4" cy="574.3" rx="2.7" ry="2.1" opacity="0.61"/><ellipse cx="159.3" cy="588.5" rx="2.3" ry="1.8" opacity="0.53"/><ellipse cx="173.7" cy="586.8" rx="3.4" ry="2.6" opacity="0.96"/><ellipse cx="187.1" cy="585.7" rx="2.7" ry="2.1" opacity="0.75"/><ellipse cx="195.1" cy="584.8" rx="2.5" ry="1.9" opacity="0.90"/><ellipse cx="207.4" cy="582.2" rx="3.3" ry="2.5" opacity="0.92"/><ellipse cx="218.4" cy="582.2" rx="3.4" ry="2.6" opacity="0.89"/><ellipse cx="262.8" cy="583.1" rx="2.7" ry="2.1" opacity="0.92"/><ellipse cx="274.1" cy="583.8" rx="2.1" ry="1.6" opacity="0.56"/><ellipse cx="284.4" cy="584.3" rx="3.1" ry="2.4" opacity="0.77"/><ellipse cx="292.0" cy="583.7" rx="2.1" ry="1.6" opacity="0.79"/><ellipse cx="307.0" cy="586.6" rx="2.5" ry="1.9" opacity="0.92"/><ellipse cx="316.8" cy="583.7" rx="3.4" ry="2.6" opacity="0.91"/><ellipse cx="325.9" cy="583.0" rx="3.0" ry="2.3" opacity="0.76"/><ellipse cx="339.9" cy="584.7" rx="2.1" ry="1.6" opacity="0.51"/><ellipse cx="346.3" cy="584.3" rx="3.6" ry="2.8" opacity="0.79"/><ellipse cx="162.8" cy="595.3" rx="3.7" ry="2.8" opacity="0.51"/><ellipse cx="170.1" cy="594.5" rx="3.4" ry="2.6" opacity="0.90"/><ellipse cx="181.9" cy="592.3" rx="3.2" ry="2.5" opacity="0.86"/><ellipse cx="190.1" cy="593.7" rx="3.6" ry="2.7" opacity="0.47"/><ellipse cx="201.9" cy="594.3" rx="2.8" ry="2.1" opacity="0.49"/><ellipse cx="211.4" cy="596.6" rx="3.4" ry="2.6" opacity="0.79"/><ellipse cx="222.7" cy="593.5" rx="2.2" ry="1.7" opacity="0.64"/><ellipse cx="229.8" cy="593.6" rx="3.1" ry="2.4" opacity="0.87"/><ellipse cx="250.7" cy="596.6" rx="3.7" ry="2.9" opacity="0.84"/><ellipse cx="268.9" cy="594.8" rx="2.3" ry="1.8" opacity="0.78"/><ellipse cx="279.0" cy="593.3" rx="3.3" ry="2.6" opacity="0.95"/><ellipse cx="286.4" cy="593.2" rx="3.5" ry="2.7" opacity="0.83"/><ellipse cx="300.2" cy="593.8" rx="3.1" ry="2.4" opacity="0.44"/><ellipse cx="312.6" cy="591.3" rx="3.6" ry="2.8" opacity="0.54"/><ellipse cx="322.2" cy="595.4" rx="3.6" ry="2.7" opacity="0.79"/><ellipse cx="164.2" cy="607.2" rx="2.6" ry="2.0" opacity="0.73"/><ellipse cx="177.6" cy="606.3" rx="2.3" ry="1.8" opacity="0.81"/><ellipse cx="182.0" cy="603.1" rx="2.4" ry="1.9" opacity="0.86"/><ellipse cx="197.0" cy="602.6" rx="3.1" ry="2.3" opacity="0.53"/><ellipse cx="209.7" cy="601.1" rx="2.9" ry="2.2" opacity="0.67"/><ellipse cx="217.3" cy="601.7" rx="2.8" ry="2.2" opacity="0.84"/><ellipse cx="229.2" cy="602.6" rx="2.7" ry="2.1" opacity="1.00"/><ellipse cx="240.3" cy="604.3" rx="2.5" ry="1.9" opacity="0.97"/><ellipse cx="251.5" cy="604.4" rx="3.4" ry="2.7" opacity="0.95"/><ellipse cx="292.8" cy="605.3" rx="3.3" ry="2.6" opacity="0.80"/><ellipse cx="309.3" cy="607.0" rx="2.9" ry="2.3" opacity="0.75"/><ellipse cx="318.0" cy="603.8" rx="2.4" ry="1.8" opacity="0.96"/><ellipse cx="324.8" cy="603.1" rx="2.5" ry="1.9" opacity="0.70"/><ellipse cx="336.4" cy="604.7" rx="3.0" ry="2.3" opacity="0.49"/><ellipse cx="346.4" cy="604.8" rx="2.9" ry="2.2" opacity="0.55"/><ellipse cx="159.7" cy="616.1" rx="2.5" ry="1.9" opacity="0.65"/><ellipse cx="171.2" cy="614.7" rx="2.2" ry="1.7" opacity="0.90"/><ellipse cx="181.1" cy="613.2" rx="3.7" ry="2.9" opacity="0.51"/><ellipse cx="192.8" cy="613.3" rx="3.2" ry="2.4" opacity="0.50"/><ellipse cx="204.5" cy="612.0" rx="3.4" ry="2.6" opacity="0.65"/><ellipse cx="228.4" cy="613.3" rx="3.6" ry="2.8" opacity="0.61"/><ellipse cx="233.7" cy="613.2" rx="3.4" ry="2.6" opacity="0.85"/><ellipse cx="248.1" cy="610.9" rx="2.5" ry="1.9" opacity="0.52"/><ellipse cx="275.2" cy="613.9" rx="3.5" ry="2.7" opacity="0.67"/><ellipse cx="288.9" cy="614.2" rx="2.8" ry="2.2" opacity="0.49"/><ellipse cx="302.1" cy="615.4" rx="3.4" ry="2.6" opacity="0.81"/><ellipse cx="307.2" cy="613.2" rx="2.2" ry="1.7" opacity="0.47"/><ellipse cx="321.9" cy="614.3" rx="2.5" ry="1.9" opacity="0.96"/><ellipse cx="333.7" cy="613.3" rx="3.4" ry="2.6" opacity="0.86"/><ellipse cx="342.5" cy="609.8" rx="3.7" ry="2.8" opacity="0.42"/><ellipse cx="164.6" cy="623.6" rx="2.9" ry="2.2" opacity="0.64"/><ellipse cx="177.4" cy="625.5" rx="2.5" ry="1.9" opacity="0.66"/><ellipse cx="197.4" cy="623.7" rx="3.6" ry="2.8" opacity="0.57"/><ellipse cx="211.2" cy="622.0" rx="2.5" ry="1.9" opacity="0.67"/><ellipse cx="223.2" cy="621.4" rx="3.1" ry="2.4" opacity="0.88"/><ellipse cx="227.8" cy="625.1" rx="2.2" ry="1.7" opacity="0.52"/><ellipse cx="240.1" cy="624.9" rx="2.6" ry="2.0" opacity="0.54"/><ellipse cx="253.9" cy="625.8" rx="2.3" ry="1.8" opacity="0.74"/><ellipse cx="270.3" cy="621.2" rx="3.7" ry="2.9" opacity="0.58"/><ellipse cx="294.5" cy="625.6" rx="3.6" ry="2.8" opacity="0.43"/><ellipse cx="306.2" cy="623.4" rx="2.4" ry="1.8" opacity="0.98"/><ellipse cx="315.9" cy="622.4" rx="3.5" ry="2.7" opacity="0.83"/><ellipse cx="328.3" cy="622.3" rx="2.9" ry="2.2" opacity="0.89"/><ellipse cx="339.8" cy="624.0" rx="2.9" ry="2.2" opacity="0.50"/><ellipse cx="346.7" cy="622.5" rx="2.9" ry="2.2" opacity="0.95"/><ellipse cx="162.3" cy="635.0" rx="3.0" ry="2.3" opacity="0.87"/><ellipse cx="171.7" cy="637.2" rx="2.2" ry="1.7" opacity="0.68"/><ellipse cx="179.5" cy="633.3" rx="2.4" ry="1.9" opacity="0.92"/><ellipse cx="186.7" cy="635.4" rx="3.5" ry="2.7" opacity="0.58"/><ellipse cx="203.5" cy="634.1" rx="3.3" ry="2.5" opacity="0.47"/><ellipse cx="214.5" cy="632.9" rx="3.2" ry="2.5" opacity="0.76"/><ellipse cx="225.0" cy="633.6" rx="2.6" ry="2.0" opacity="0.84"/><ellipse cx="235.8" cy="633.6" rx="3.6" ry="2.8" opacity="0.91"/><ellipse cx="247.2" cy="634.4" rx="2.3" ry="1.7" opacity="0.69"/><ellipse cx="265.0" cy="634.3" rx="2.2" ry="1.7" opacity="0.45"/><ellipse cx="280.7" cy="630.9" rx="2.4" ry="1.9" opacity="0.70"/><ellipse cx="290.1" cy="633.2" rx="2.1" ry="1.6" opacity="0.88"/><ellipse cx="303.3" cy="632.8" rx="3.5" ry="2.7" opacity="0.92"/><ellipse cx="309.8" cy="630.8" rx="3.5" ry="2.7" opacity="0.88"/><ellipse cx="320.9" cy="632.0" rx="3.0" ry="2.3" opacity="0.50"/><ellipse cx="333.2" cy="633.6" rx="2.1" ry="1.6" opacity="0.64"/><ellipse cx="346.6" cy="632.8" rx="2.5" ry="1.9" opacity="0.79"/></g></g>
<g clip-path="url(#ci3)"><rect x="361.2" y="477.4" width="138.2" height="137.0" fill="#000" filter="url(#af3)"/></g>
<g clip-path="url(#ci4)"><rect x="503.5" y="477.4" width="137.3" height="137.0" fill="#000" filter="url(#af4)"/></g>
<path d="M43.1 477.4v2.5M43.1 614.4v-2.5M29.4 491.1h2.5M166.6 491.1h-2.5M56.8 477.4v3.5M56.8 614.4v-3.5M29.4 504.8h3.5M166.6 504.8h-3.5M70.6 477.4v2.5M70.6 614.4v-2.5M29.4 518.5h2.5M166.6 518.5h-2.5M84.3 477.4v3.5M84.3 614.4v-3.5M29.4 532.2h3.5M166.6 532.2h-3.5M98.0 477.4v2.5M98.0 614.4v-2.5M29.4 545.9h2.5M166.6 545.9h-2.5M111.7 477.4v3.5M111.7 614.4v-3.5M29.4 559.6h3.5M166.6 559.6h-3.5M125.4 477.4v2.5M125.4 614.4v-2.5M29.4 573.3h2.5M166.6 573.3h-2.5M139.2 477.4v3.5M139.2 614.4v-3.5M29.4 587.0h3.5M166.6 587.0h-3.5M152.9 477.4v2.5M152.9 614.4v-2.5M29.4 600.7h2.5M166.6 600.7h-2.5" stroke="#222" stroke-width="1.1" fill="none"/>
<rect x="29.4" y="477.4" width="137.2" height="137.0" fill="none" stroke="#222" stroke-width="1.6"/>
<path d="M184.4 477.4v2.5M184.4 614.4v-2.5M170.6 491.1h2.5M308.6 491.1h-2.5M198.2 477.4v3.5M198.2 614.4v-3.5M170.6 504.8h3.5M308.6 504.8h-3.5M212.0 477.4v2.5M212.0 614.4v-2.5M170.6 518.5h2.5M308.6 518.5h-2.5M225.8 477.4v3.5M225.8 614.4v-3.5M170.6 532.2h3.5M308.6 532.2h-3.5M239.6 477.4v2.5M239.6 614.4v-2.5M170.6 545.9h2.5M308.6 545.9h-2.5M253.4 477.4v3.5M253.4 614.4v-3.5M170.6 559.6h3.5M308.6 559.6h-3.5M267.2 477.4v2.5M267.2 614.4v-2.5M170.6 573.3h2.5M308.6 573.3h-2.5M281.0 477.4v3.5M281.0 614.4v-3.5M170.6 587.0h3.5M308.6 587.0h-3.5M294.8 477.4v2.5M294.8 614.4v-2.5M170.6 600.7h2.5M308.6 600.7h-2.5" stroke="#222" stroke-width="1.1" fill="none"/>
<rect x="170.6" y="477.4" width="138.0" height="137.0" fill="none" stroke="#222" stroke-width="1.6"/>
<path d="M375.0 477.4v2.5M375.0 614.4v-2.5M361.2 491.1h2.5M499.4 491.1h-2.5M388.8 477.4v3.5M388.8 614.4v-3.5M361.2 504.8h3.5M499.4 504.8h-3.5M402.7 477.4v2.5M402.7 614.4v-2.5M361.2 518.5h2.5M499.4 518.5h-2.5M416.5 477.4v3.5M416.5 614.4v-3.5M361.2 532.2h3.5M499.4 532.2h-3.5M430.3 477.4v2.5M430.3 614.4v-2.5M361.2 545.9h2.5M499.4 545.9h-2.5M444.1 477.4v3.5M444.1 614.4v-3.5M361.2 559.6h3.5M499.4 559.6h-3.5M457.9 477.4v2.5M457.9 614.4v-2.5M361.2 573.3h2.5M499.4 573.3h-2.5M471.8 477.4v3.5M471.8 614.4v-3.5M361.2 587.0h3.5M499.4 587.0h-3.5M485.6 477.4v2.5M485.6 614.4v-2.5M361.2 600.7h2.5M499.4 600.7h-2.5" stroke="#222" stroke-width="1.1" fill="none"/>
<rect x="361.2" y="477.4" width="138.2" height="137.0" fill="none" stroke="#222" stroke-width="1.6"/>
<path d="M517.2 477.4v2.5M517.2 614.4v-2.5M503.5 491.1h2.5M640.8 491.1h-2.5M531.0 477.4v3.5M531.0 614.4v-3.5M503.5 504.8h3.5M640.8 504.8h-3.5M544.7 477.4v2.5M544.7 614.4v-2.5M503.5 518.5h2.5M640.8 518.5h-2.5M558.4 477.4v3.5M558.4 614.4v-3.5M503.5 532.2h3.5M640.8 532.2h-3.5M572.1 477.4v2.5M572.1 614.4v-2.5M503.5 545.9h2.5M640.8 545.9h-2.5M585.9 477.4v3.5M585.9 614.4v-3.5M503.5 559.6h3.5M640.8 559.6h-3.5M599.6 477.4v2.5M599.6 614.4v-2.5M503.5 573.3h2.5M640.8 573.3h-2.5M613.3 477.4v3.5M613.3 614.4v-3.5M503.5 587.0h3.5M640.8 587.0h-3.5M627.1 477.4v2.5M627.1 614.4v-2.5M503.5 600.7h2.5M640.8 600.7h-2.5" stroke="#222" stroke-width="1.1" fill="none"/>
<rect x="503.5" y="477.4" width="137.3" height="137.0" fill="none" stroke="#222" stroke-width="1.6"/>
<rect x="32.5" y="483.1" width="130.9" height="21.1" fill="#fff"/>
<rect x="179.2" y="484.7" width="123.7" height="20.5" fill="#fff"/>
<rect x="365.1" y="484.7" width="129.9" height="20.5" fill="#fff"/>
<rect x="509.2" y="484.1" width="122.7" height="20.5" fill="#fff"/>
<rect x="314" y="481.6" width="18" height="129" fill="url(#cb)"/>
<rect x="644.8" y="479.4" width="18" height="131" fill="url(#cb)"/>
<text transform="translate(1.6 73.4) scale(0.8 1)"  font-size="30" font-weight="bold" fill="#111" stroke="#111" stroke-width="0.7">a</text>
<text x="72.5" y="45.3"  font-size="20.5" fill="#222"><tspan font-style="italic" font-size="20">t</tspan><tspan font-size="14" dy="2.3">Co</tspan><tspan dy="-2.3"> (nm) =</tspan></text>
<text x="219.8" y="45.4"  font-size="21" fill="#222">3.6,</text>
<text x="312.8" y="45.4"  font-size="21" fill="#222">0.6</text>
<text x="419.5" y="38.5"  font-size="20.5" fill="#2a2a72" textLength="73" lengthAdjust="spacingAndGlyphs">Pt (111)</text>
<text x="472.8" y="18"  font-size="20.5" fill="#6e1a1e" textLength="81" lengthAdjust="spacingAndGlyphs">Co (111)</text>
<text x="77.3" y="83"  font-size="23.3" fill="#3d7a3d" textLength="169.5" lengthAdjust="spacingAndGlyphs">Zn-polar sample</text>
<text x="82" y="266.2"  font-size="23.8" fill="#2a2a72" textLength="158.5" lengthAdjust="spacingAndGlyphs">O-polar sample</text>
<text x="421" y="203.4"  font-size="20" fill="#1a1a1a" textLength="106.2" lengthAdjust="spacingAndGlyphs">ZnO (0002)</text>
<text transform="translate(38.2 322.5) rotate(-90)"  font-size="28" fill="#1a1a1a" textLength="178" lengthAdjust="spacingAndGlyphs">Intensity (a.u.)</text>
<text x="59.5" y="419.2"  font-size="22.5" fill="#1a1a1a" text-anchor="middle">0</text>
<text x="180.3" y="419.2"  font-size="22.5" fill="#1a1a1a" text-anchor="middle">10</text>
<text x="304" y="446.4"  font-size="25.8" fill="#1a1a1a">2</text><text x="320.5" y="446.4" class="serif" font-style="italic" font-size="27" fill="#1a1a1a">θ</text><text x="341.2" y="446.6"  font-size="27.2" fill="#1a1a1a" textLength="74.5" lengthAdjust="spacingAndGlyphs">(deg.)</text>
<text transform="translate(1.5 485.8) scale(0.9 1)"  font-size="30" font-weight="bold" fill="#111">b</text>
<text y="469.1"  font-size="20" fill="#222"><tspan x="115.2" font-style="italic">t</tspan><tspan x="119.0" font-size="14" dy="2">Co</tspan><tspan x="144.3" dy="-2">=</tspan><tspan x="161.8">3.6</tspan></text><text x="196.2" y="469.1"  font-size="20" fill="#222" textLength="28.6" lengthAdjust="spacingAndGlyphs">nm</text>
<text y="469.1"  font-size="20" fill="#222"><tspan x="436.2" font-style="italic">t</tspan><tspan x="440.0" font-size="14" dy="2">Co</tspan><tspan x="465.3" dy="-2">=</tspan><tspan x="482.8">0.4</tspan></text><text x="517.2" y="469.1"  font-size="20" fill="#222" textLength="28.6" lengthAdjust="spacingAndGlyphs">nm</text>
<text x="33.2" y="499.3"  font-size="16.5" fill="#4f8a4f" textLength="129.5" lengthAdjust="spacingAndGlyphs">Zn-polar sample</text>
<text x="179.5" y="500.9"  font-size="17" fill="#2d2d6e" textLength="122.5" lengthAdjust="spacingAndGlyphs">O-polar sample</text>
<text x="365.6" y="500.1"  font-size="16.5" fill="#4f8a4f" textLength="128.5" lengthAdjust="spacingAndGlyphs">Zn-polar sample</text>
<text x="509.1" y="500.5"  font-size="17" fill="#2d2d6e" textLength="122" lengthAdjust="spacingAndGlyphs">O-polar sample</text>
<text y="602.9"  font-size="16.3" fill="#2a2a2a"><tspan x="42.7" font-style="italic">R</tspan><tspan x="54.6" font-size="12" dy="2">a</tspan><tspan x="65.9" dy="-2">=</tspan><tspan x="81.4">0.10</tspan></text><text x="120.6" y="602.9"  font-size="16.3" fill="#2a2a2a" textLength="25.6" lengthAdjust="spacingAndGlyphs">nm</text>
<text y="601.7"  font-size="16.3" fill="#2a2a2a"><tspan x="184.3" font-style="italic">R</tspan><tspan x="196.2" font-size="12" dy="2">a</tspan><tspan x="207.5" dy="-2">=</tspan><tspan x="223.0">0.20</tspan></text><text x="262.2" y="601.7"  font-size="16.3" fill="#2a2a2a" textLength="25.6" lengthAdjust="spacingAndGlyphs">nm</text>
<text y="601.7"  font-size="16.3" fill="#2a2a2a"><tspan x="378.1" font-style="italic">R</tspan><tspan x="390.0" font-size="12" dy="2">a</tspan><tspan x="401.3" dy="-2">=</tspan><tspan x="416.8">0.12</tspan></text><text x="456.0" y="601.7"  font-size="16.3" fill="#2a2a2a" textLength="25.6" lengthAdjust="spacingAndGlyphs">nm</text>
<text y="603.3"  font-size="16.3" fill="#2a2a2a"><tspan x="519.7" font-style="italic">R</tspan><tspan x="531.6" font-size="12" dy="2">a</tspan><tspan x="542.9" dy="-2">=</tspan><tspan x="558.4">0.07</tspan></text><text x="597.6" y="603.3"  font-size="16.3" fill="#2a2a2a" textLength="25.6" lengthAdjust="spacingAndGlyphs">nm</text>
<text transform="translate(327 584.5) rotate(-90)"  font-size="15.6" fill="#222" textLength="84.5" lengthAdjust="spacingAndGlyphs">Height (nm)</text>
<text transform="translate(657 582.3) rotate(-90)"  font-size="15.6" fill="#222" textLength="84.5" lengthAdjust="spacingAndGlyphs">Height (nm)</text>
<text x="330.8" y="487.1"  font-size="14.5" fill="#222">1.8</text>
<text x="330.8" y="530.5"  font-size="14.5" fill="#222">1.2</text>
<text x="330.8" y="575"  font-size="14.5" fill="#222">0.6</text>
<text x="330.8" y="621.3"  font-size="14.5" fill="#222">0.0</text>
<text x="662.7" y="484.8"  font-size="14.5" fill="#222">1.0</text>
<text x="662.7" y="552.2"  font-size="14.5" fill="#222">0.5</text>
<text x="662.7" y="619.4"  font-size="14.5" fill="#222">0.0</text>
<text x="300.4" y="419.2" font-size="22.5" fill="#1a1a1a" text-anchor="middle">20</text><text x="420.7" y="419.2" font-size="22.5" fill="#1a1a1a" text-anchor="middle">30</text><text x="541.0" y="419.2" font-size="22.5" fill="#1a1a1a" text-anchor="middle">40</text><text x="661.3" y="419.2" font-size="22.5" fill="#1a1a1a" text-anchor="middle">50</text>
</svg>
</body></html>
